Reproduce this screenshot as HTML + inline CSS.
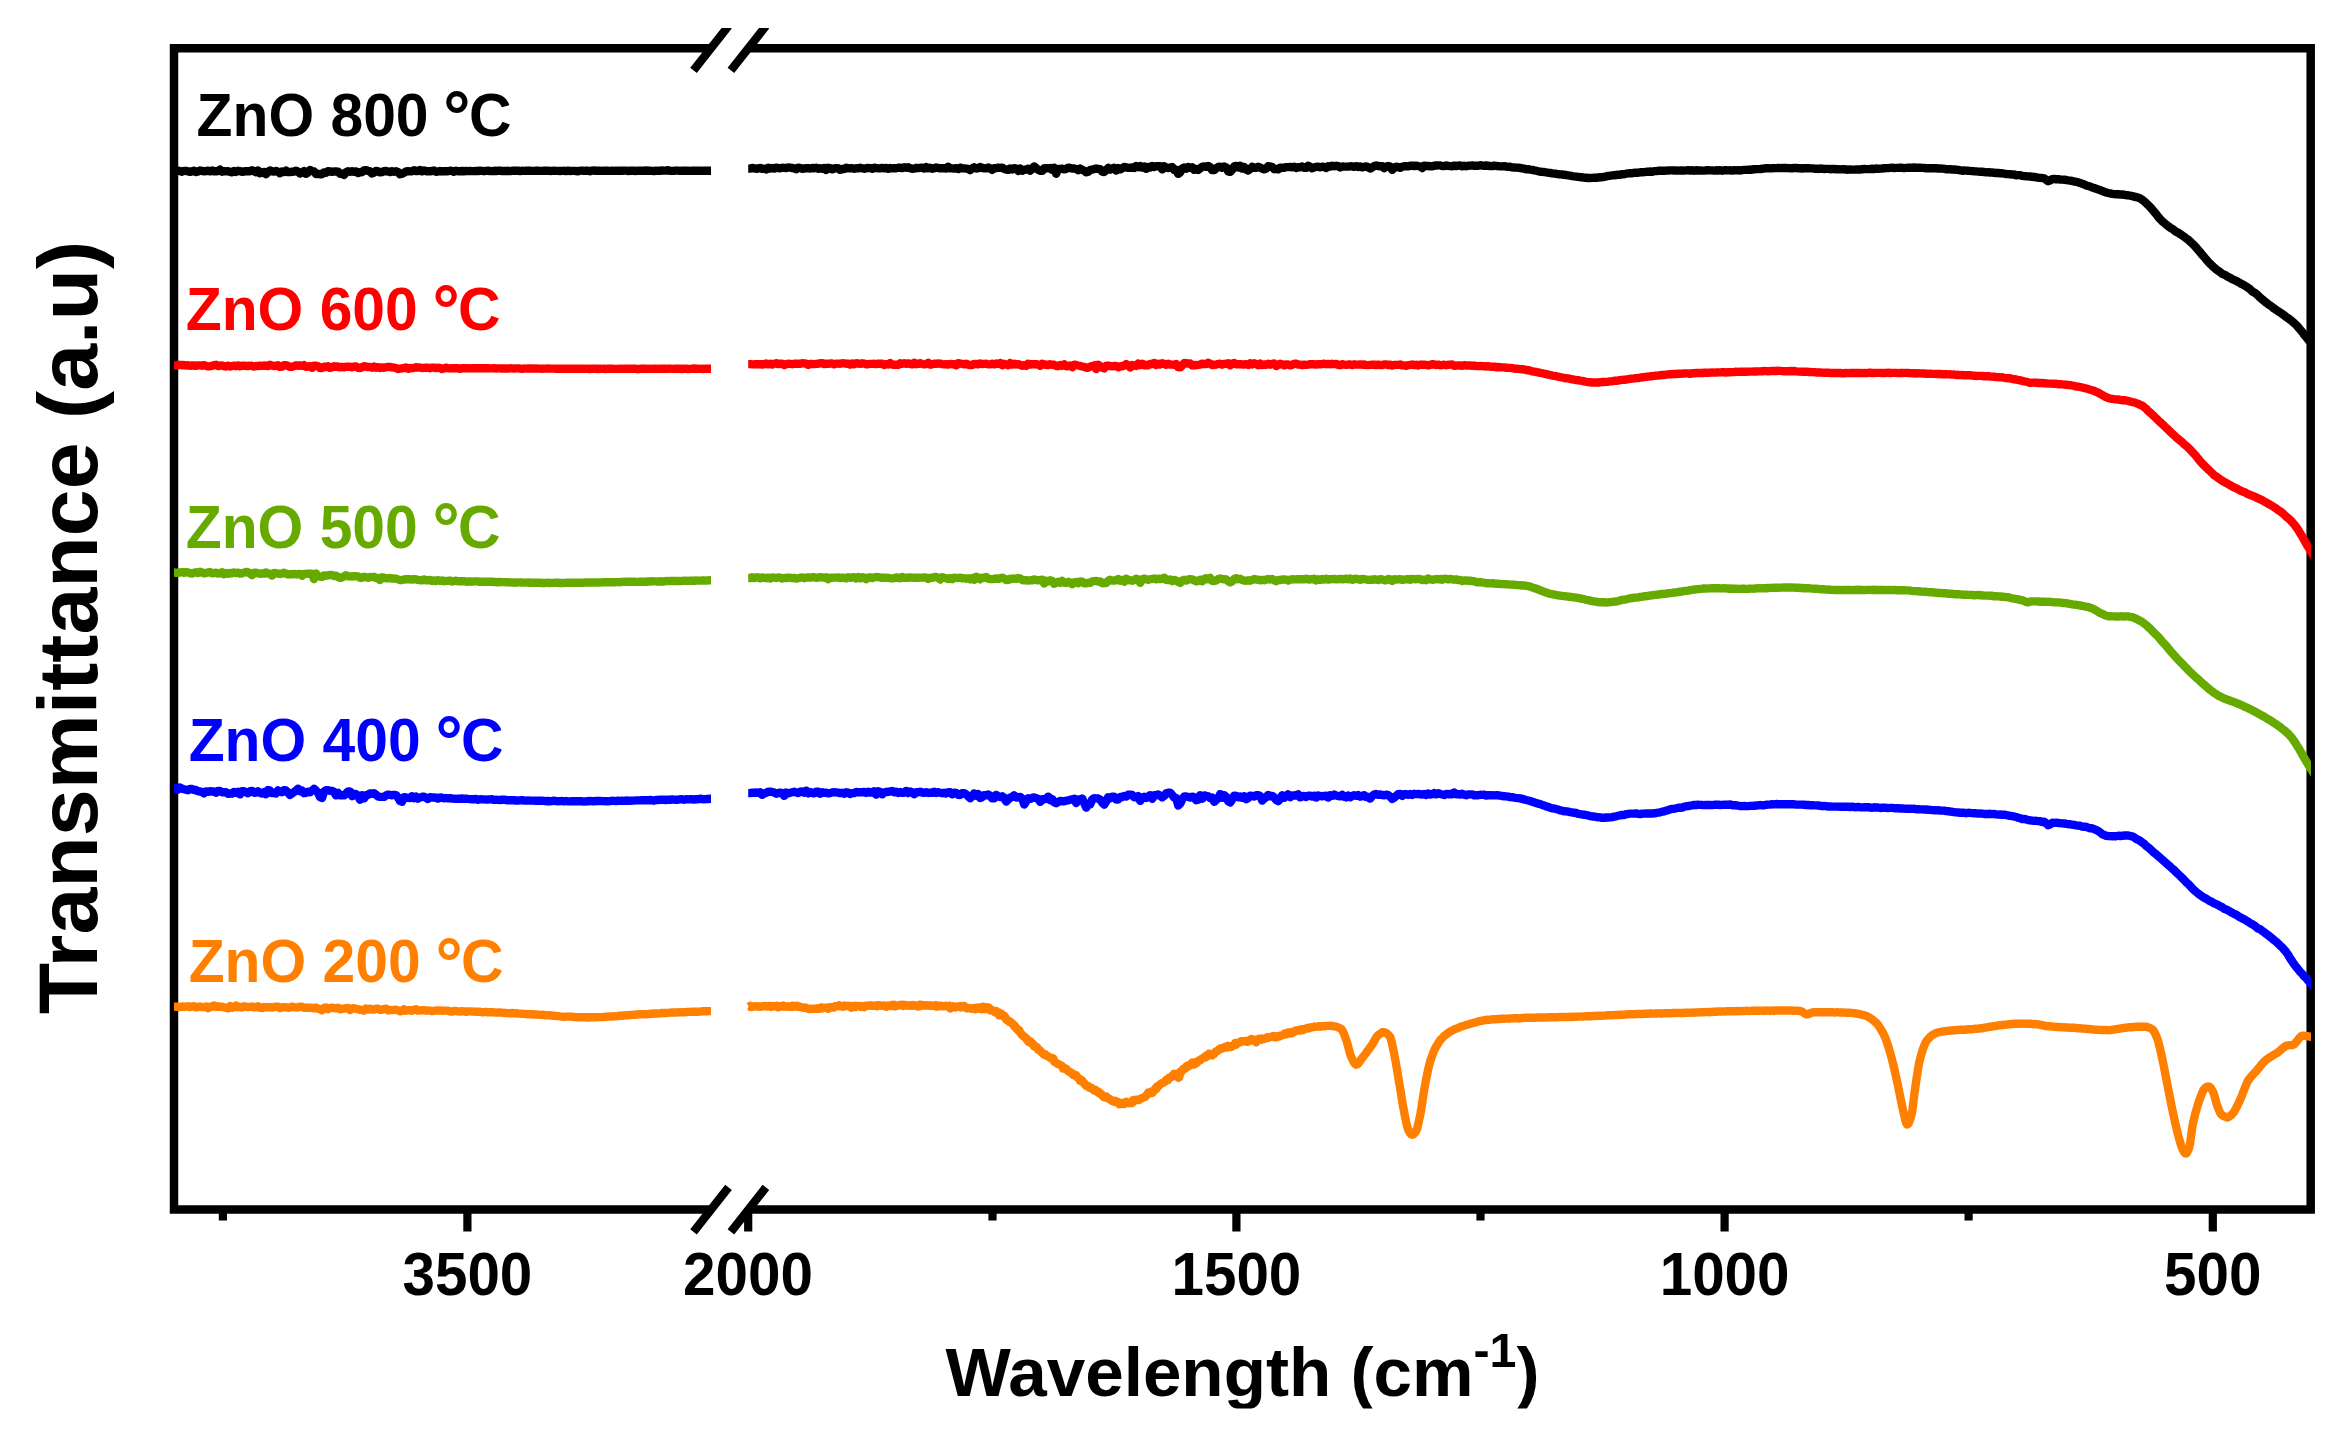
<!DOCTYPE html>
<html lang="en">
<head>
<meta charset="utf-8">
<title>FTIR transmittance of ZnO</title>
<style>html,body{margin:0;padding:0;background:#fff;}body{width:2338px;height:1436px;overflow:hidden;}svg{display:block;}</style>
</head>
<body>
<svg width="2338" height="1436" viewBox="0 0 2338 1436">
<rect x="0" y="0" width="2338" height="1436" fill="#ffffff"/>
<g font-family='"Liberation Sans", sans-serif' font-weight="700">
<text transform="translate(196.6,136.3) scale(1,1.040)" font-size="58.8" fill="#000000" xml:space="preserve">ZnO 800 <tspan x="246.7" dy="4.00" font-size="68.0">°</tspan><tspan x="272.3" dy="-4.00">C</tspan></text>
<text transform="translate(185.8,329.6) scale(1,1.040)" font-size="58.8" fill="#ff0000" xml:space="preserve">ZnO 600 <tspan x="246.7" dy="4.00" font-size="68.0">°</tspan><tspan x="272.3" dy="-4.00">C</tspan></text>
<text transform="translate(185.8,548.0) scale(1,1.040)" font-size="58.8" fill="#66aa00" xml:space="preserve">ZnO 500 <tspan x="246.7" dy="4.00" font-size="68.0">°</tspan><tspan x="272.3" dy="-4.00">C</tspan></text>
<text transform="translate(188.7,761.3) scale(1,1.040)" font-size="58.8" fill="#0000ff" xml:space="preserve">ZnO 400 <tspan x="246.7" dy="4.00" font-size="68.0">°</tspan><tspan x="272.3" dy="-4.00">C</tspan></text>
<text transform="translate(188.7,982.4) scale(1,1.040)" font-size="58.8" fill="#ff8000" xml:space="preserve">ZnO 200 <tspan x="246.7" dy="4.00" font-size="68.0">°</tspan><tspan x="272.3" dy="-4.00">C</tspan></text>
<text transform="translate(467.4,1295.3) scale(1,1.040)" font-size="58.4" text-anchor="middle" fill="#000">3500</text>
<text transform="translate(748.0,1295.3) scale(1,1.040)" font-size="58.4" text-anchor="middle" fill="#000">2000</text>
<text transform="translate(1236.4,1295.3) scale(1,1.040)" font-size="58.4" text-anchor="middle" fill="#000">1500</text>
<text transform="translate(1724.6,1295.3) scale(1,1.040)" font-size="58.4" text-anchor="middle" fill="#000">1000</text>
<text transform="translate(2212.8,1295.3) scale(1,1.040)" font-size="58.4" text-anchor="middle" fill="#000">500</text>
<clipPath id="xc"><rect x="0" y="1300" width="2338" height="108.5"/></clipPath>
<g clip-path="url(#xc)"><text x="945.5" y="1395.7" font-size="69.2" fill="#000" xml:space="preserve">Wavelength (cm<tspan font-size="48.4" dy="-29">-1</tspan><tspan dy="29">)</tspan></text></g>
<text transform="translate(96.6,1014.3) rotate(-90) scale(1.0105,1)" font-size="83.5" fill="#000">Transmittance (a.u)</text>
</g>
<path fill="none" stroke="#000" stroke-width="8.5" stroke-linecap="butt" stroke-linejoin="miter" d="M711.0 48.2 L174.0 48.2 L174.0 1209.6 L711.0 1209.6"/>
<path fill="none" stroke="#000" stroke-width="8.5" stroke-linecap="butt" stroke-linejoin="miter" d="M748.4 48.2 L2310.7 48.2 L2310.7 1209.6 L748.4 1209.6"/>
<path d="M467.4 1209.6 V1231.6M748.2 1209.6 V1231.6M1236.4 1209.6 V1231.6M1724.6 1209.6 V1231.6M2212.8 1209.6 V1231.6M222.9 1209.6 V1220.4M992.5 1209.6 V1220.4M1480.5 1209.6 V1220.4M1968.6 1209.6 V1220.4" fill="none" stroke="#000" stroke-width="8.2"/>
<clipPath id="sc"><rect x="0" y="28.1" width="2338" height="1436"/></clipPath>
<path clip-path="url(#sc)" d="M693.5 70.4 L728.5 26.0M730.9 70.4 L765.9 26.0M693.5 1231.8 L728.5 1187.4M730.9 1231.8 L765.9 1187.4" fill="none" stroke="#000" stroke-width="8.4" stroke-linecap="butt"/>
<clipPath id="pc"><rect x="174" y="40" width="2137" height="1180"/></clipPath>
<g clip-path="url(#pc)">
<path d="M168.0 171.3L170.0 171.3L172.0 171.3L174.0 170.9L176.0 170.9L178.0 170.7L180.0 171.1L182.0 171.7L184.0 170.9L186.0 170.9L188.0 171.3L190.0 171.9L192.0 171.3L194.0 170.7L196.0 172.1L198.0 171.5L200.0 170.5L202.0 170.9L204.0 171.3L206.0 171.1L208.0 170.7L210.0 171.4L212.0 170.5L214.0 171.3L216.0 171.2L218.0 171.0L220.0 169.6L222.0 171.7L224.0 171.2L226.0 171.4L228.0 171.2L230.0 171.9L232.0 172.3L234.0 171.0L236.0 171.9L238.0 170.8L240.0 171.2L242.0 171.8L244.0 171.5L246.0 171.2L248.0 171.3L250.0 171.2L252.0 170.3L254.0 171.2L256.0 172.2L258.0 170.4L260.0 173.3L262.0 172.7L264.0 172.0L266.0 174.2L268.0 171.7L270.0 170.4L272.0 171.3L274.0 171.6L276.0 170.9L278.0 171.8L280.0 173.2L282.0 171.4L284.0 172.0L286.0 170.6L288.0 172.1L290.0 172.0L292.0 171.8L294.0 171.5L296.0 170.7L298.0 171.8L300.0 173.4L302.0 172.4L304.0 171.2L306.0 173.9L308.0 172.4L310.0 170.0L312.0 171.1L314.0 171.4L316.0 174.1L318.0 173.8L320.0 174.2L322.0 174.3L324.0 172.4L326.0 172.9L328.0 171.2L330.0 171.4L332.0 171.9L334.0 171.5L336.0 171.5L338.0 171.6L340.0 173.7L342.0 173.7L344.0 174.9L346.0 172.3L348.0 171.3L350.0 171.8L352.0 171.2L354.0 171.9L356.0 171.4L358.0 173.0L360.0 172.2L362.0 172.2L364.0 170.4L366.0 170.1L368.0 171.1L370.0 171.1L372.0 173.5L374.0 172.6L376.0 170.9L378.0 171.4L380.0 172.3L382.0 172.0L384.0 171.2L386.0 171.0L388.0 171.5L390.0 172.1L392.0 171.2L394.0 171.8L396.0 171.3L398.0 171.9L400.0 174.3L402.0 173.8L404.0 172.8L406.0 171.5L408.0 171.3L410.0 171.4L412.0 171.2L414.0 170.3L416.0 171.0L418.0 171.1L420.0 170.1L422.0 171.3L424.0 170.4L426.0 171.2L428.0 171.1L430.0 171.3L432.0 171.0L434.0 170.4L436.0 171.7L438.0 171.6L440.0 171.0L442.0 171.5L444.0 171.1L446.0 171.2L448.0 171.3L450.0 170.8L452.0 170.9L454.0 171.8L456.0 170.8L458.0 171.2L460.0 171.2L462.0 171.0L464.0 171.2L466.0 171.0L468.0 171.1L470.0 171.0L472.0 171.1L474.0 171.1L476.0 171.0L478.0 171.0L480.0 170.8L482.0 170.9L484.0 171.2L486.0 170.9L488.0 170.8L490.0 171.0L492.0 171.1L494.0 170.8L496.0 171.0L498.0 170.8L500.0 170.7L502.0 171.0L504.0 170.9L506.0 171.0L508.0 170.8L510.0 171.1L512.0 170.8L514.0 170.8L516.0 170.7L518.0 170.7L520.0 171.1L522.0 170.8L524.0 170.9L526.0 170.8L528.0 170.8L530.0 170.8L532.0 170.9L534.0 170.9L536.0 170.8L538.0 170.8L540.0 170.9L542.0 170.9L544.0 170.8L546.0 170.7L548.0 170.6L550.0 171.0L552.0 170.9L554.0 170.8L556.0 170.9L558.0 170.9L560.0 171.0L562.0 170.9L564.0 170.8L566.0 171.1L568.0 170.7L570.0 171.0L572.0 170.9L574.0 170.9L576.0 171.0L578.0 171.3L580.0 170.6L582.0 170.6L584.0 170.9L586.0 170.7L588.0 170.8L590.0 171.2L592.0 170.6L594.0 170.5L596.0 170.8L598.0 170.8L600.0 170.8L602.0 170.9L604.0 170.7L606.0 170.6L608.0 170.8L610.0 170.9L612.0 170.6L614.0 170.9L616.0 170.7L618.0 170.9L620.0 170.6L622.0 170.7L624.0 170.6L626.0 170.6L628.0 171.0L630.0 170.8L632.0 170.8L634.0 170.8L636.0 171.0L638.0 170.6L640.0 170.8L642.0 170.7L644.0 170.7L646.0 170.5L648.0 170.7L650.0 170.8L652.0 170.9L654.0 171.1L656.0 170.7L658.0 170.9L660.0 170.7L662.0 170.5L664.0 170.6L666.0 170.5L668.0 170.3L670.0 170.7L672.0 170.9L674.0 170.8L676.0 170.6L678.0 170.6L680.0 170.9L682.0 170.8L684.0 170.8L686.0 170.8L688.0 170.8L690.0 170.9L692.0 170.8L694.0 170.8L696.0 170.6L698.0 170.8L700.0 170.7L702.0 170.9L704.0 170.6L706.0 170.7L708.0 170.7L710.0 170.8L711.0 170.8" fill="none" stroke="#000000" stroke-width="8.4" stroke-linejoin="round" stroke-linecap="butt"/>
<path d="M748.2 168.6L750.2 168.6L752.2 168.0L754.2 168.3L756.2 168.7L758.2 168.5L760.2 167.9L762.2 168.8L764.2 168.6L766.2 169.4L768.2 167.8L770.2 168.5L772.2 167.9L774.2 168.6L776.2 167.7L778.2 168.1L780.2 168.3L782.2 167.8L784.2 167.9L786.2 168.0L788.2 167.4L790.2 167.7L792.2 168.0L794.2 168.3L796.2 169.2L798.2 167.6L800.2 168.1L802.2 168.7L804.2 168.5L806.2 168.3L808.2 168.2L810.2 168.5L812.2 168.0L814.2 168.2L816.2 167.8L818.2 168.8L820.2 168.2L822.2 168.7L824.2 167.9L826.2 170.0L828.2 167.8L830.2 168.1L832.2 169.3L834.2 168.5L836.2 168.3L838.2 168.3L840.2 169.8L842.2 169.0L844.2 169.0L846.2 167.7L848.2 168.4L850.2 168.3L852.2 168.3L854.2 168.8L856.2 168.2L858.2 168.4L860.2 167.8L862.2 168.3L864.2 168.8L866.2 168.2L868.2 168.0L870.2 168.1L872.2 168.7L874.2 167.6L876.2 168.1L878.2 168.3L880.2 168.4L882.2 167.9L884.2 168.3L886.2 168.0L888.2 168.8L890.2 168.0L892.2 168.4L894.2 168.3L896.2 168.3L898.2 167.8L900.2 167.7L902.2 168.1L904.2 167.3L906.2 167.8L908.2 167.2L910.2 168.2L912.2 168.8L914.2 168.6L916.2 167.8L918.2 168.1L920.2 167.8L922.2 167.8L924.2 168.5L926.2 167.1L928.2 168.3L930.2 167.8L932.2 168.8L934.2 168.2L936.2 167.5L938.2 168.0L940.2 168.3L942.2 168.1L944.2 168.2L946.2 168.5L948.2 166.8L950.2 168.4L952.2 168.4L954.2 168.6L956.2 168.1L958.2 169.1L960.2 167.6L962.2 168.2L964.2 168.4L966.2 168.6L968.2 168.9L970.2 170.1L972.2 168.4L974.2 167.3L976.2 168.5L978.2 168.2L980.2 166.9L982.2 167.9L984.2 168.4L986.2 168.4L988.2 167.4L990.2 168.5L992.2 169.9L994.2 168.2L996.2 168.1L998.2 167.7L1000.2 167.9L1002.2 167.6L1004.2 168.9L1006.2 169.6L1008.2 169.9L1010.2 168.4L1012.2 169.4L1014.2 168.1L1016.2 168.5L1018.2 171.0L1020.2 168.5L1022.2 170.7L1024.2 169.6L1026.2 169.6L1028.2 168.7L1030.2 170.6L1032.2 168.9L1034.2 166.4L1036.2 168.1L1038.2 169.8L1040.2 170.8L1042.2 170.9L1044.2 168.2L1046.2 168.3L1048.2 168.4L1050.2 168.0L1052.2 169.9L1054.2 167.8L1056.2 173.7L1058.2 168.9L1060.2 169.0L1062.2 168.6L1064.2 169.4L1066.2 168.8L1068.2 167.6L1070.2 167.9L1072.2 168.5L1074.2 168.5L1076.2 169.0L1078.2 170.3L1080.2 168.6L1082.2 169.8L1084.2 170.6L1086.2 172.3L1088.2 171.7L1090.2 170.1L1092.2 169.5L1094.2 169.1L1096.2 168.5L1098.2 169.0L1100.2 169.2L1102.2 171.7L1104.2 172.0L1106.2 170.2L1108.2 167.9L1110.2 169.6L1112.2 168.5L1114.2 167.8L1116.2 170.6L1118.2 168.1L1120.2 169.3L1122.2 168.4L1124.2 167.0L1126.2 167.3L1128.2 167.9L1130.2 167.8L1132.2 167.5L1134.2 168.0L1136.2 166.0L1138.2 167.3L1140.2 166.0L1142.2 167.6L1144.2 166.6L1146.2 168.8L1148.2 166.9L1150.2 167.5L1152.2 165.9L1154.2 167.0L1156.2 166.1L1158.2 166.2L1160.2 166.1L1162.2 169.4L1164.2 166.2L1166.2 167.5L1168.2 168.1L1170.2 167.5L1172.2 167.0L1174.2 170.0L1176.2 169.8L1178.2 173.9L1180.2 172.4L1182.2 168.5L1184.2 167.5L1186.2 168.7L1188.2 167.0L1190.2 167.8L1192.2 167.3L1194.2 169.8L1196.2 168.9L1198.2 169.9L1200.2 168.4L1202.2 166.8L1204.2 166.4L1206.2 166.8L1208.2 166.0L1210.2 167.1L1212.2 170.1L1214.2 170.1L1216.2 168.2L1218.2 166.9L1220.2 166.7L1222.2 167.8L1224.2 166.4L1226.2 167.4L1228.2 171.4L1230.2 171.9L1232.2 169.7L1234.2 166.4L1236.2 165.9L1238.2 167.5L1240.2 165.8L1242.2 168.6L1244.2 167.0L1246.2 169.7L1248.2 170.5L1250.2 169.0L1252.2 166.8L1254.2 167.9L1256.2 167.9L1258.2 166.8L1260.2 167.7L1262.2 168.6L1264.2 169.4L1266.2 168.6L1268.2 166.3L1270.2 166.4L1272.2 167.0L1274.2 169.2L1276.2 168.9L1278.2 169.4L1280.2 167.8L1282.2 167.7L1284.2 167.7L1286.2 167.1L1288.2 167.1L1290.2 167.0L1292.2 167.2L1294.2 166.7L1296.2 168.0L1298.2 167.2L1300.2 167.3L1302.2 166.5L1304.2 167.7L1306.2 167.9L1308.2 165.8L1310.2 166.8L1312.2 168.3L1314.2 167.3L1316.2 166.9L1318.2 166.6L1320.2 167.4L1322.2 166.7L1324.2 166.9L1326.2 167.9L1328.2 166.3L1330.2 166.6L1332.2 165.7L1334.2 166.2L1336.2 165.8L1338.2 166.2L1340.2 167.4L1342.2 166.5L1344.2 166.6L1346.2 166.6L1348.2 166.6L1350.2 166.3L1352.2 166.4L1354.2 166.9L1356.2 166.1L1358.2 167.1L1360.2 166.5L1362.2 167.3L1364.2 166.9L1366.2 166.4L1368.2 167.2L1370.2 168.6L1372.2 167.5L1374.2 166.0L1376.2 165.4L1378.2 166.0L1380.2 166.2L1382.2 166.3L1384.2 168.1L1386.2 166.5L1388.2 166.0L1390.2 166.5L1392.2 169.8L1394.2 167.9L1396.2 166.7L1398.2 167.1L1400.2 167.9L1402.2 166.8L1404.2 166.2L1406.2 166.3L1408.2 166.4L1410.2 165.8L1412.2 165.6L1414.2 166.1L1416.2 165.7L1418.2 166.1L1420.2 166.4L1422.2 168.0L1424.2 165.7L1426.2 166.0L1428.2 165.9L1430.2 166.3L1432.2 166.4L1434.2 165.7L1436.2 165.5L1438.2 165.4L1440.2 165.4L1442.2 166.1L1444.2 166.1L1446.2 165.5L1448.2 165.8L1450.2 166.1L1452.2 166.2L1454.2 165.6L1456.2 166.1L1458.2 165.7L1460.2 165.4L1462.2 166.4L1464.2 165.7L1466.2 166.3L1468.2 165.8L1470.2 165.6L1472.2 165.5L1474.2 165.7L1476.2 165.7L1478.2 165.7L1480.2 165.2L1482.2 165.6L1484.2 165.7L1486.2 165.5L1488.2 165.8L1490.2 166.0L1492.2 166.1L1494.2 165.6L1496.2 166.0L1498.2 166.1L1500.2 166.4L1502.2 166.4L1504.2 166.3L1506.2 166.5L1508.2 166.9L1510.2 166.8L1512.2 167.4L1514.2 167.5L1516.2 167.6L1518.2 167.7L1520.2 168.0L1522.2 168.3L1524.2 168.7L1526.2 169.4L1528.2 169.2L1530.2 169.6L1532.2 169.9L1534.2 170.4L1536.2 170.7L1538.2 171.2L1540.2 171.7L1542.2 171.9L1544.2 172.0L1546.2 172.4L1548.2 172.7L1550.2 172.9L1552.2 173.4L1554.2 173.6L1556.2 173.7L1558.2 174.2L1560.2 174.4L1562.2 174.5L1564.2 174.8L1566.2 175.0L1568.2 175.4L1570.2 175.7L1572.2 176.1L1574.2 176.4L1576.2 176.6L1578.2 176.9L1580.2 177.2L1582.2 177.3L1584.2 177.8L1586.2 177.8L1588.2 178.0L1590.2 178.0L1592.2 177.9L1594.2 177.7L1596.2 177.8L1598.2 177.5L1600.2 177.3L1602.2 177.2L1604.2 176.8L1606.2 176.4L1608.2 175.9L1610.2 175.7L1612.2 175.4L1614.2 175.2L1616.2 175.0L1618.2 174.8L1620.2 174.7L1622.2 174.1L1624.2 174.2L1626.2 173.7L1628.2 173.4L1630.2 173.3L1632.2 173.2L1634.2 172.8L1636.2 172.8L1638.2 172.7L1640.2 172.3L1642.2 172.3L1644.2 172.1L1646.2 171.8L1648.2 171.8L1650.2 171.5L1652.2 171.8L1654.2 171.1L1656.2 171.1L1658.2 170.8L1660.2 170.7L1662.2 170.7L1664.2 170.8L1666.2 170.6L1668.2 170.5L1670.2 170.4L1672.2 170.4L1674.2 170.5L1676.2 170.5L1678.2 170.6L1680.2 170.5L1682.2 170.5L1684.2 170.6L1686.2 170.4L1688.2 170.3L1690.2 170.5L1692.2 170.3L1694.2 170.7L1696.2 170.3L1698.2 170.5L1700.2 170.4L1702.2 170.6L1704.2 170.6L1706.2 170.3L1708.2 170.3L1710.2 170.4L1712.2 170.4L1714.2 170.6L1716.2 170.3L1718.2 170.5L1720.2 170.2L1722.2 170.7L1724.2 170.3L1726.2 170.3L1728.2 170.4L1730.2 170.3L1732.2 170.6L1734.2 170.1L1736.2 170.4L1738.2 170.2L1740.2 170.5L1742.2 170.1L1744.2 169.9L1746.2 169.9L1748.2 169.8L1750.2 169.8L1752.2 169.5L1754.2 169.3L1756.2 169.1L1758.2 169.1L1760.2 169.1L1762.2 168.7L1764.2 168.5L1766.2 168.2L1768.2 168.3L1770.2 168.4L1772.2 168.2L1774.2 168.1L1776.2 168.1L1778.2 167.9L1780.2 168.1L1782.2 167.9L1784.2 168.0L1786.2 168.0L1788.2 168.1L1790.2 168.2L1792.2 168.2L1794.2 168.0L1796.2 168.0L1798.2 168.2L1800.2 168.3L1802.2 168.5L1804.2 168.2L1806.2 168.3L1808.2 168.2L1810.2 168.4L1812.2 168.4L1814.2 168.7L1816.2 168.6L1818.2 169.0L1820.2 168.5L1822.2 168.7L1824.2 169.0L1826.2 168.9L1828.2 168.9L1830.2 169.2L1832.2 169.0L1834.2 169.0L1836.2 169.2L1838.2 169.3L1840.2 169.4L1842.2 169.3L1844.2 169.3L1846.2 169.5L1848.2 169.7L1850.2 169.4L1852.2 169.6L1854.2 169.6L1856.2 169.5L1858.2 169.4L1860.2 169.5L1862.2 169.2L1864.2 169.0L1866.2 169.1L1868.2 169.1L1870.2 169.1L1872.2 168.6L1874.2 169.1L1876.2 168.5L1878.2 168.8L1880.2 168.6L1882.2 168.5L1884.2 168.3L1886.2 168.1L1888.2 168.1L1890.2 167.9L1892.2 167.7L1894.2 168.1L1896.2 167.9L1898.2 167.9L1900.2 167.6L1902.2 167.8L1904.2 168.1L1906.2 167.9L1908.2 167.7L1910.2 167.6L1912.2 167.7L1914.2 167.5L1916.2 167.7L1918.2 167.8L1920.2 167.8L1922.2 167.9L1924.2 167.9L1926.2 168.4L1928.2 168.2L1930.2 168.1L1932.2 168.3L1934.2 168.3L1936.2 168.3L1938.2 168.5L1940.2 168.4L1942.2 168.6L1944.2 168.7L1946.2 169.3L1948.2 169.3L1950.2 169.3L1952.2 169.5L1954.2 169.5L1956.2 169.7L1958.2 169.9L1960.2 170.3L1962.2 170.8L1964.2 170.5L1966.2 170.6L1968.2 170.8L1970.2 170.9L1972.2 171.1L1974.2 171.3L1976.2 171.4L1978.2 171.6L1980.2 171.7L1982.2 171.8L1984.2 172.0L1986.2 172.4L1988.2 172.2L1990.2 172.5L1992.2 172.5L1994.2 172.8L1996.2 173.0L1998.2 172.9L2000.2 173.3L2002.2 173.3L2004.2 173.7L2006.2 174.0L2008.2 174.1L2010.2 174.2L2012.2 174.6L2014.2 174.5L2016.2 175.3L2018.2 175.1L2020.2 175.1L2022.2 175.9L2024.2 176.1L2026.2 176.3L2028.2 176.4L2030.2 176.5L2032.2 176.8L2034.2 177.0L2036.2 177.2L2038.2 177.7L2040.2 177.9L2042.2 178.0L2044.2 178.4L2046.2 179.8L2048.2 181.2L2050.2 180.4L2052.2 179.2L2054.2 178.9L2056.2 179.3L2058.2 179.2L2060.2 179.5L2062.2 179.6L2064.2 179.7L2066.2 180.0L2068.2 180.4L2070.2 180.7L2072.2 181.0L2074.2 181.5L2076.2 181.8L2078.2 182.3L2080.2 183.1L2082.2 183.7L2084.2 184.5L2086.2 185.4L2088.2 186.0L2090.2 186.6L2092.2 187.4L2094.2 188.0L2096.2 188.8L2098.2 189.4L2100.2 190.2L2102.2 190.9L2104.2 191.8L2106.2 192.4L2108.2 193.0L2110.2 193.4L2112.2 193.9L2114.2 194.1L2116.2 194.2L2118.2 194.3L2120.2 194.5L2122.2 194.5L2124.2 194.7L2126.2 195.2L2128.2 195.2L2130.2 195.7L2132.2 196.1L2134.2 196.6L2136.2 197.1L2138.2 197.6L2140.2 198.4L2142.2 199.7L2144.2 201.4L2146.2 203.2L2148.2 205.1L2150.2 207.2L2152.2 209.4L2154.2 211.9L2156.2 214.1L2158.2 216.9L2160.2 219.1L2162.2 221.2L2164.2 222.9L2166.2 224.6L2168.2 226.2L2170.2 227.7L2172.2 228.7L2174.2 230.3L2176.2 231.8L2178.2 232.6L2180.2 234.2L2182.2 235.4L2184.2 236.7L2186.2 238.5L2188.2 239.7L2190.2 241.6L2192.2 243.5L2194.2 245.4L2196.2 247.6L2198.2 249.9L2200.2 252.3L2202.2 254.8L2204.2 257.0L2206.2 259.5L2208.2 261.8L2210.2 263.9L2212.2 265.8L2214.2 267.6L2216.2 269.4L2218.2 270.7L2220.2 272.1L2222.2 273.9L2224.2 274.5L2226.2 275.7L2228.2 277.0L2230.2 277.9L2232.2 279.1L2234.2 280.0L2236.2 280.9L2238.2 282.0L2240.2 283.2L2242.2 284.3L2244.2 285.3L2246.2 286.5L2248.2 287.9L2250.2 289.3L2252.2 291.4L2254.2 292.4L2256.2 293.9L2258.2 295.7L2260.2 297.6L2262.2 299.4L2264.2 301.0L2266.2 302.7L2268.2 304.2L2270.2 305.5L2272.2 307.0L2274.2 308.6L2276.2 309.9L2278.2 311.2L2280.2 312.6L2282.2 313.9L2284.2 315.4L2286.2 317.0L2288.2 318.3L2290.2 319.7L2292.2 321.4L2294.2 323.2L2296.2 325.0L2298.2 327.2L2300.2 329.6L2302.2 331.9L2304.2 334.7L2306.2 337.1L2308.2 339.6L2310.2 341.8L2312.2 344.4L2314.2 346.8L2316.0 349.0" fill="none" stroke="#000000" stroke-width="8.4" stroke-linejoin="round" stroke-linecap="butt"/>
<path d="M168.0 365.4L170.0 365.4L172.0 365.7L174.0 365.4L176.0 365.4L178.0 365.2L180.0 364.8L182.0 365.2L184.0 365.0L186.0 365.5L188.0 365.3L190.0 365.7L192.0 365.5L194.0 365.5L196.0 365.8L198.0 365.4L200.0 365.4L202.0 365.7L204.0 365.1L206.0 365.8L208.0 366.4L210.0 366.2L212.0 365.9L214.0 365.1L216.0 364.8L218.0 366.1L220.0 365.6L222.0 365.5L224.0 366.2L226.0 366.5L228.0 365.6L230.0 366.6L232.0 366.0L234.0 365.6L236.0 366.1L238.0 365.4L240.0 366.3L242.0 365.8L244.0 365.6L246.0 366.0L248.0 366.0L250.0 365.8L252.0 365.8L254.0 366.6L256.0 365.9L258.0 366.1L260.0 365.7L262.0 365.9L264.0 365.5L266.0 365.7L268.0 366.1L270.0 364.8L272.0 365.7L274.0 366.0L276.0 365.8L278.0 365.3L280.0 366.9L282.0 366.6L284.0 365.1L286.0 365.2L288.0 366.0L290.0 366.8L292.0 366.8L294.0 366.1L296.0 365.3L298.0 365.8L300.0 365.4L302.0 365.9L304.0 365.1L306.0 366.8L308.0 366.6L310.0 366.1L312.0 367.9L314.0 365.7L316.0 365.7L318.0 366.3L320.0 368.0L322.0 368.0L324.0 366.7L326.0 367.0L328.0 366.3L330.0 367.9L332.0 367.3L334.0 366.3L336.0 366.9L338.0 366.4L340.0 367.4L342.0 366.9L344.0 367.3L346.0 366.6L348.0 366.7L350.0 366.6L352.0 367.4L354.0 366.5L356.0 366.5L358.0 367.9L360.0 368.0L362.0 367.3L364.0 366.2L366.0 366.6L368.0 367.1L370.0 366.9L372.0 367.7L374.0 366.5L376.0 367.7L378.0 367.1L380.0 368.1L382.0 367.4L384.0 367.8L386.0 367.2L388.0 366.9L390.0 367.0L392.0 367.3L394.0 367.6L396.0 368.0L398.0 369.0L400.0 368.7L402.0 368.3L404.0 368.0L406.0 367.5L408.0 368.8L410.0 367.9L412.0 368.2L414.0 367.9L416.0 367.2L418.0 367.6L420.0 367.5L422.0 368.0L424.0 367.9L426.0 367.7L428.0 367.7L430.0 368.2L432.0 367.6L434.0 367.6L436.0 368.1L438.0 367.8L440.0 367.9L442.0 369.0L444.0 368.5L446.0 367.7L448.0 368.1L450.0 368.4L452.0 368.1L454.0 368.2L456.0 368.1L458.0 368.3L460.0 368.9L462.0 368.2L464.0 368.2L466.0 368.2L468.0 368.3L470.0 368.4L472.0 368.3L474.0 368.3L476.0 368.3L478.0 368.3L480.0 368.2L482.0 368.2L484.0 368.3L486.0 368.3L488.0 368.3L490.0 368.4L492.0 368.4L494.0 368.2L496.0 368.5L498.0 368.4L500.0 368.4L502.0 368.5L504.0 368.5L506.0 368.4L508.0 368.6L510.0 368.3L512.0 368.4L514.0 368.6L516.0 368.4L518.0 368.4L520.0 368.5L522.0 368.9L524.0 368.5L526.0 368.6L528.0 368.5L530.0 368.5L532.0 368.5L534.0 368.6L536.0 368.5L538.0 368.6L540.0 368.6L542.0 368.7L544.0 368.6L546.0 368.6L548.0 368.5L550.0 368.6L552.0 368.6L554.0 368.6L556.0 368.7L558.0 368.6L560.0 368.8L562.0 368.8L564.0 368.6L566.0 368.8L568.0 368.6L570.0 368.8L572.0 368.7L574.0 368.7L576.0 368.7L578.0 368.8L580.0 368.8L582.0 368.8L584.0 368.6L586.0 368.9L588.0 368.7L590.0 369.1L592.0 368.7L594.0 368.8L596.0 368.7L598.0 369.0L600.0 368.7L602.0 368.9L604.0 368.8L606.0 369.0L608.0 368.6L610.0 368.8L612.0 368.7L614.0 368.9L616.0 368.9L618.0 368.9L620.0 368.7L622.0 368.9L624.0 368.7L626.0 368.8L628.0 368.7L630.0 368.6L632.0 368.7L634.0 368.8L636.0 368.8L638.0 369.2L640.0 368.8L642.0 368.7L644.0 368.7L646.0 368.8L648.0 368.9L650.0 368.8L652.0 368.9L654.0 368.7L656.0 368.7L658.0 368.9L660.0 368.8L662.0 368.7L664.0 368.8L666.0 368.7L668.0 368.9L670.0 368.5L672.0 368.9L674.0 368.8L676.0 368.6L678.0 368.8L680.0 368.8L682.0 369.0L684.0 368.7L686.0 368.7L688.0 369.0L690.0 368.9L692.0 368.8L694.0 368.5L696.0 368.8L698.0 368.7L700.0 368.9L702.0 368.8L704.0 369.0L706.0 368.6L708.0 368.8L710.0 368.7L711.0 368.7" fill="none" stroke="#ff0000" stroke-width="8.4" stroke-linejoin="round" stroke-linecap="butt"/>
<path d="M748.2 364.1L750.2 364.1L752.2 364.4L754.2 364.3L756.2 364.1L758.2 364.2L760.2 364.1L762.2 364.6L764.2 364.2L766.2 363.5L768.2 364.4L770.2 363.8L772.2 364.5L774.2 363.7L776.2 363.2L778.2 364.1L780.2 363.8L782.2 363.6L784.2 365.0L786.2 364.3L788.2 363.7L790.2 363.9L792.2 364.2L794.2 363.7L796.2 363.7L798.2 363.8L800.2 363.8L802.2 363.2L804.2 363.4L806.2 363.7L808.2 364.8L810.2 363.9L812.2 364.0L814.2 364.1L816.2 363.9L818.2 363.8L820.2 363.2L822.2 363.2L824.2 364.1L826.2 363.6L828.2 363.9L830.2 363.5L832.2 363.5L834.2 364.4L836.2 363.6L838.2 363.6L840.2 363.7L842.2 363.3L844.2 363.4L846.2 363.7L848.2 363.7L850.2 364.6L852.2 363.4L854.2 364.3L856.2 363.3L858.2 363.5L860.2 363.9L862.2 363.3L864.2 363.6L866.2 364.2L868.2 364.2L870.2 363.9L872.2 363.9L874.2 363.8L876.2 364.1L878.2 363.7L880.2 363.6L882.2 363.8L884.2 365.0L886.2 364.1L888.2 364.5L890.2 363.0L892.2 364.5L894.2 364.8L896.2 364.6L898.2 364.8L900.2 363.3L902.2 363.7L904.2 363.2L906.2 363.8L908.2 363.4L910.2 363.9L912.2 364.3L914.2 362.8L916.2 364.2L918.2 363.9L920.2 363.1L922.2 364.0L924.2 364.4L926.2 364.1L928.2 362.9L930.2 364.7L932.2 364.3L934.2 363.8L936.2 363.8L938.2 363.5L940.2 363.6L942.2 364.1L944.2 364.4L946.2 364.1L948.2 364.6L950.2 363.9L952.2 364.2L954.2 364.3L956.2 365.3L958.2 363.1L960.2 363.5L962.2 363.9L964.2 364.3L966.2 363.6L968.2 364.7L970.2 365.1L972.2 364.8L974.2 363.9L976.2 364.0L978.2 364.2L980.2 363.5L982.2 364.1L984.2 363.9L986.2 363.7L988.2 364.4L990.2 364.4L992.2 363.7L994.2 364.4L996.2 363.5L998.2 363.9L1000.2 363.1L1002.2 365.2L1004.2 363.8L1006.2 364.6L1008.2 365.2L1010.2 363.1L1012.2 364.6L1014.2 363.8L1016.2 364.5L1018.2 364.1L1020.2 365.1L1022.2 365.7L1024.2 365.1L1026.2 365.9L1028.2 363.7L1030.2 364.6L1032.2 364.1L1034.2 364.2L1036.2 364.2L1038.2 364.6L1040.2 365.7L1042.2 363.7L1044.2 364.4L1046.2 364.8L1048.2 365.0L1050.2 364.2L1052.2 364.8L1054.2 364.8L1056.2 366.0L1058.2 366.0L1060.2 364.9L1062.2 365.8L1064.2 364.4L1066.2 366.3L1068.2 366.0L1070.2 365.4L1072.2 367.3L1074.2 364.7L1076.2 365.0L1078.2 365.5L1080.2 365.9L1082.2 366.5L1084.2 366.9L1086.2 367.7L1088.2 367.7L1090.2 366.5L1092.2 366.1L1094.2 365.4L1096.2 369.0L1098.2 364.7L1100.2 366.1L1102.2 367.6L1104.2 368.4L1106.2 365.6L1108.2 365.6L1110.2 366.1L1112.2 366.3L1114.2 366.0L1116.2 365.9L1118.2 367.2L1120.2 366.1L1122.2 366.2L1124.2 365.5L1126.2 364.1L1128.2 365.2L1130.2 367.5L1132.2 365.0L1134.2 365.6L1136.2 366.0L1138.2 363.5L1140.2 365.1L1142.2 363.8L1144.2 365.2L1146.2 365.0L1148.2 365.2L1150.2 363.9L1152.2 364.1L1154.2 363.0L1156.2 364.9L1158.2 363.7L1160.2 364.5L1162.2 363.2L1164.2 363.7L1166.2 364.8L1168.2 363.8L1170.2 364.5L1172.2 364.6L1174.2 364.7L1176.2 364.1L1178.2 367.1L1180.2 367.4L1182.2 365.5L1184.2 363.0L1186.2 363.1L1188.2 363.6L1190.2 363.5L1192.2 365.4L1194.2 365.0L1196.2 365.2L1198.2 364.9L1200.2 364.6L1202.2 363.7L1204.2 364.1L1206.2 364.1L1208.2 362.7L1210.2 363.7L1212.2 365.1L1214.2 364.8L1216.2 364.6L1218.2 363.9L1220.2 363.8L1222.2 364.7L1224.2 363.9L1226.2 363.7L1228.2 363.2L1230.2 365.2L1232.2 363.5L1234.2 363.0L1236.2 364.3L1238.2 364.3L1240.2 364.1L1242.2 364.5L1244.2 364.5L1246.2 364.1L1248.2 364.9L1250.2 363.3L1252.2 364.4L1254.2 363.3L1256.2 363.9L1258.2 365.2L1260.2 363.5L1262.2 365.0L1264.2 364.4L1266.2 364.8L1268.2 363.8L1270.2 364.8L1272.2 363.8L1274.2 363.5L1276.2 366.0L1278.2 364.9L1280.2 363.7L1282.2 364.2L1284.2 365.3L1286.2 364.4L1288.2 364.4L1290.2 365.4L1292.2 364.8L1294.2 363.8L1296.2 363.8L1298.2 364.5L1300.2 364.6L1302.2 365.1L1304.2 364.6L1306.2 364.9L1308.2 364.6L1310.2 364.2L1312.2 364.3L1314.2 364.3L1316.2 364.6L1318.2 364.1L1320.2 364.3L1322.2 364.1L1324.2 363.7L1326.2 364.2L1328.2 363.9L1330.2 364.3L1332.2 363.8L1334.2 364.1L1336.2 363.9L1338.2 364.8L1340.2 365.2L1342.2 364.2L1344.2 364.6L1346.2 364.9L1348.2 364.5L1350.2 364.5L1352.2 365.1L1354.2 364.3L1356.2 364.6L1358.2 364.6L1360.2 364.4L1362.2 364.7L1364.2 364.5L1366.2 365.1L1368.2 365.1L1370.2 364.9L1372.2 364.7L1374.2 364.7L1376.2 365.1L1378.2 364.7L1380.2 365.0L1382.2 365.1L1384.2 364.5L1386.2 364.4L1388.2 365.1L1390.2 364.7L1392.2 365.6L1394.2 365.0L1396.2 364.9L1398.2 364.9L1400.2 364.5L1402.2 365.3L1404.2 365.4L1406.2 365.8L1408.2 365.1L1410.2 364.9L1412.2 364.5L1414.2 365.1L1416.2 364.8L1418.2 365.5L1420.2 364.6L1422.2 364.8L1424.2 364.7L1426.2 365.0L1428.2 365.4L1430.2 364.9L1432.2 364.2L1434.2 364.5L1436.2 365.0L1438.2 364.6L1440.2 365.2L1442.2 365.1L1444.2 364.7L1446.2 365.2L1448.2 364.7L1450.2 364.6L1452.2 364.5L1454.2 365.8L1456.2 365.6L1458.2 365.5L1460.2 365.5L1462.2 365.8L1464.2 365.2L1466.2 365.5L1468.2 365.4L1470.2 365.5L1472.2 365.7L1474.2 365.7L1476.2 366.0L1478.2 366.1L1480.2 366.0L1482.2 366.1L1484.2 366.2L1486.2 366.5L1488.2 366.2L1490.2 366.6L1492.2 366.7L1494.2 366.6L1496.2 367.2L1498.2 367.0L1500.2 367.2L1502.2 367.4L1504.2 367.4L1506.2 367.8L1508.2 367.9L1510.2 367.9L1512.2 368.2L1514.2 368.5L1516.2 368.7L1518.2 368.9L1520.2 369.1L1522.2 369.3L1524.2 369.5L1526.2 370.0L1528.2 370.2L1530.2 370.6L1532.2 371.4L1534.2 371.7L1536.2 372.0L1538.2 372.4L1540.2 372.9L1542.2 373.2L1544.2 373.7L1546.2 374.1L1548.2 374.6L1550.2 375.0L1552.2 375.6L1554.2 375.9L1556.2 376.2L1558.2 376.7L1560.2 377.1L1562.2 377.5L1564.2 378.0L1566.2 378.3L1568.2 378.4L1570.2 378.9L1572.2 379.3L1574.2 379.7L1576.2 380.0L1578.2 380.2L1580.2 380.6L1582.2 380.9L1584.2 381.3L1586.2 381.8L1588.2 382.1L1590.2 382.3L1592.2 382.5L1594.2 382.5L1596.2 382.4L1598.2 382.5L1600.2 382.3L1602.2 382.0L1604.2 382.0L1606.2 381.9L1608.2 381.7L1610.2 381.4L1612.2 381.2L1614.2 380.8L1616.2 380.8L1618.2 380.5L1620.2 380.2L1622.2 379.9L1624.2 379.7L1626.2 379.5L1628.2 379.2L1630.2 378.8L1632.2 378.6L1634.2 378.4L1636.2 378.1L1638.2 378.0L1640.2 377.7L1642.2 377.3L1644.2 377.1L1646.2 376.8L1648.2 376.6L1650.2 376.3L1652.2 376.2L1654.2 375.9L1656.2 375.6L1658.2 375.6L1660.2 375.2L1662.2 375.0L1664.2 375.0L1666.2 374.6L1668.2 374.4L1670.2 374.3L1672.2 374.2L1674.2 373.9L1676.2 374.0L1678.2 373.8L1680.2 373.7L1682.2 373.6L1684.2 373.5L1686.2 373.4L1688.2 373.4L1690.2 373.9L1692.2 373.3L1694.2 373.2L1696.2 373.0L1698.2 373.0L1700.2 372.9L1702.2 373.0L1704.2 372.8L1706.2 372.8L1708.2 372.7L1710.2 372.6L1712.2 372.5L1714.2 372.6L1716.2 372.5L1718.2 372.4L1720.2 372.4L1722.2 372.3L1724.2 372.3L1726.2 372.5L1728.2 372.2L1730.2 372.2L1732.2 372.1L1734.2 372.0L1736.2 371.8L1738.2 371.9L1740.2 371.7L1742.2 371.7L1744.2 371.8L1746.2 371.7L1748.2 371.6L1750.2 371.6L1752.2 371.6L1754.2 371.4L1756.2 371.5L1758.2 371.4L1760.2 371.4L1762.2 371.3L1764.2 371.0L1766.2 371.1L1768.2 371.3L1770.2 371.1L1772.2 371.0L1774.2 371.0L1776.2 371.0L1778.2 370.8L1780.2 370.9L1782.2 371.1L1784.2 371.3L1786.2 371.2L1788.2 371.3L1790.2 371.0L1792.2 371.2L1794.2 371.0L1796.2 371.4L1798.2 371.6L1800.2 371.6L1802.2 371.7L1804.2 371.7L1806.2 371.6L1808.2 372.0L1810.2 372.0L1812.2 372.1L1814.2 372.1L1816.2 372.5L1818.2 372.5L1820.2 372.4L1822.2 372.6L1824.2 372.7L1826.2 372.8L1828.2 372.8L1830.2 373.0L1832.2 372.9L1834.2 373.0L1836.2 373.0L1838.2 372.9L1840.2 373.0L1842.2 373.3L1844.2 373.2L1846.2 373.0L1848.2 373.1L1850.2 372.9L1852.2 373.0L1854.2 373.0L1856.2 373.0L1858.2 373.0L1860.2 373.0L1862.2 373.1L1864.2 372.9L1866.2 373.1L1868.2 372.8L1870.2 372.8L1872.2 373.0L1874.2 373.0L1876.2 372.9L1878.2 372.9L1880.2 372.9L1882.2 373.0L1884.2 373.0L1886.2 372.9L1888.2 372.8L1890.2 373.0L1892.2 372.9L1894.2 372.9L1896.2 372.9L1898.2 373.1L1900.2 373.0L1902.2 373.0L1904.2 372.9L1906.2 372.9L1908.2 373.0L1910.2 373.1L1912.2 373.2L1914.2 373.2L1916.2 373.5L1918.2 373.3L1920.2 373.4L1922.2 373.5L1924.2 373.5L1926.2 373.7L1928.2 373.9L1930.2 373.7L1932.2 373.9L1934.2 373.9L1936.2 374.0L1938.2 373.9L1940.2 374.0L1942.2 374.3L1944.2 374.2L1946.2 374.3L1948.2 374.4L1950.2 374.3L1952.2 374.6L1954.2 374.5L1956.2 375.0L1958.2 374.8L1960.2 375.1L1962.2 375.0L1964.2 375.2L1966.2 375.2L1968.2 375.3L1970.2 375.2L1972.2 375.6L1974.2 375.7L1976.2 376.0L1978.2 375.9L1980.2 375.9L1982.2 376.0L1984.2 376.3L1986.2 376.3L1988.2 376.3L1990.2 376.5L1992.2 376.6L1994.2 376.8L1996.2 377.0L1998.2 377.1L2000.2 377.4L2002.2 377.3L2004.2 377.8L2006.2 378.1L2008.2 378.3L2010.2 378.3L2012.2 378.9L2014.2 379.3L2016.2 379.5L2018.2 380.1L2020.2 380.3L2022.2 380.9L2024.2 381.3L2026.2 381.6L2028.2 382.3L2030.2 382.9L2032.2 382.6L2034.2 382.6L2036.2 382.7L2038.2 383.0L2040.2 382.9L2042.2 383.0L2044.2 383.2L2046.2 383.3L2048.2 383.6L2050.2 383.6L2052.2 383.6L2054.2 383.9L2056.2 383.8L2058.2 384.2L2060.2 384.2L2062.2 384.4L2064.2 384.6L2066.2 384.7L2068.2 385.0L2070.2 385.1L2072.2 385.5L2074.2 385.9L2076.2 386.5L2078.2 386.6L2080.2 387.0L2082.2 387.5L2084.2 388.1L2086.2 388.4L2088.2 389.1L2090.2 389.7L2092.2 390.2L2094.2 391.0L2096.2 391.8L2098.2 392.7L2100.2 393.8L2102.2 395.0L2104.2 396.1L2106.2 397.2L2108.2 398.0L2110.2 398.6L2112.2 398.9L2114.2 399.2L2116.2 399.4L2118.2 399.5L2120.2 399.8L2122.2 400.2L2124.2 400.3L2126.2 400.5L2128.2 400.9L2130.2 401.5L2132.2 402.1L2134.2 402.4L2136.2 403.1L2138.2 403.9L2140.2 404.8L2142.2 405.7L2144.2 407.2L2146.2 408.8L2148.2 411.1L2150.2 412.6L2152.2 414.5L2154.2 416.4L2156.2 418.4L2158.2 420.3L2160.2 422.1L2162.2 424.0L2164.2 425.9L2166.2 427.9L2168.2 429.7L2170.2 431.6L2172.2 433.6L2174.2 435.4L2176.2 437.4L2178.2 439.0L2180.2 440.6L2182.2 442.3L2184.2 444.2L2186.2 445.9L2188.2 447.6L2190.2 449.7L2192.2 451.8L2194.2 454.0L2196.2 456.2L2198.2 458.8L2200.2 461.2L2202.2 463.5L2204.2 465.5L2206.2 467.5L2208.2 469.4L2210.2 471.3L2212.2 473.2L2214.2 475.3L2216.2 476.4L2218.2 478.0L2220.2 479.4L2222.2 480.8L2224.2 481.9L2226.2 483.1L2228.2 484.1L2230.2 485.2L2232.2 486.4L2234.2 487.4L2236.2 488.3L2238.2 489.3L2240.2 490.5L2242.2 491.3L2244.2 492.1L2246.2 493.1L2248.2 494.2L2250.2 495.0L2252.2 495.7L2254.2 496.5L2256.2 497.4L2258.2 498.4L2260.2 499.3L2262.2 500.3L2264.2 501.6L2266.2 502.4L2268.2 503.7L2270.2 504.8L2272.2 506.0L2274.2 507.3L2276.2 508.6L2278.2 510.1L2280.2 511.3L2282.2 512.9L2284.2 514.6L2286.2 516.6L2288.2 518.2L2290.2 520.0L2292.2 522.1L2294.2 524.4L2296.2 527.0L2298.2 529.9L2300.2 533.3L2302.2 536.4L2304.2 540.2L2306.2 543.6L2308.2 547.0L2310.2 550.2L2312.2 553.6L2314.2 556.8L2316.0 559.7" fill="none" stroke="#ff0000" stroke-width="8.4" stroke-linejoin="round" stroke-linecap="butt"/>
<path d="M168.0 572.8L170.0 572.8L172.0 573.0L174.0 572.5L176.0 572.8L178.0 572.9L180.0 572.4L182.0 572.1L184.0 572.7L186.0 572.1L188.0 572.4L190.0 573.2L192.0 573.5L194.0 572.7L196.0 572.2L198.0 573.0L200.0 571.8L202.0 572.4L204.0 573.3L206.0 573.0L208.0 572.4L210.0 572.0L212.0 573.3L214.0 573.1L216.0 572.7L218.0 573.5L220.0 573.4L222.0 572.2L224.0 574.1L226.0 572.9L228.0 573.7L230.0 573.0L232.0 573.2L234.0 572.5L236.0 573.1L238.0 572.7L240.0 573.5L242.0 573.3L244.0 572.6L246.0 571.9L248.0 572.4L250.0 573.3L252.0 575.2L254.0 572.7L256.0 572.7L258.0 573.3L260.0 573.7L262.0 573.5L264.0 573.6L266.0 572.4L268.0 573.6L270.0 573.7L272.0 575.6L274.0 573.0L276.0 573.2L278.0 573.6L280.0 574.0L282.0 573.5L284.0 572.8L286.0 573.6L288.0 574.5L290.0 574.1L292.0 574.3L294.0 573.9L296.0 574.3L298.0 574.4L300.0 573.9L302.0 575.7L304.0 574.0L306.0 573.9L308.0 573.7L310.0 573.8L312.0 573.8L314.0 579.1L316.0 573.5L318.0 576.2L320.0 576.5L322.0 576.9L324.0 575.4L326.0 575.8L328.0 575.3L330.0 575.0L332.0 575.0L334.0 576.0L336.0 575.8L338.0 576.9L340.0 577.8L342.0 577.5L344.0 576.3L346.0 575.3L348.0 576.3L350.0 576.4L352.0 576.5L354.0 576.2L356.0 576.1L358.0 576.4L360.0 577.8L362.0 577.7L364.0 576.8L366.0 577.2L368.0 577.7L370.0 577.0L372.0 577.1L374.0 576.8L376.0 578.0L378.0 577.9L380.0 580.0L382.0 577.3L384.0 577.7L386.0 578.3L388.0 578.3L390.0 577.9L392.0 578.5L394.0 578.5L396.0 578.6L398.0 579.4L400.0 580.1L402.0 580.1L404.0 579.5L406.0 579.3L408.0 579.3L410.0 579.3L412.0 579.6L414.0 579.1L416.0 579.4L418.0 579.8L420.0 580.3L422.0 580.2L424.0 579.5L426.0 580.3L428.0 580.2L430.0 580.0L432.0 580.9L434.0 580.4L436.0 581.0L438.0 580.1L440.0 580.9L442.0 580.5L444.0 581.2L446.0 580.9L448.0 580.9L450.0 580.5L452.0 581.5L454.0 581.1L456.0 580.7L458.0 581.2L460.0 581.3L462.0 581.2L464.0 581.2L466.0 581.5L468.0 581.7L470.0 581.3L472.0 581.7L474.0 581.4L476.0 581.4L478.0 581.5L480.0 581.8L482.0 581.7L484.0 581.8L486.0 581.8L488.0 581.8L490.0 581.8L492.0 581.8L494.0 582.0L496.0 582.0L498.0 582.2L500.0 582.0L502.0 582.1L504.0 582.1L506.0 582.3L508.0 582.1L510.0 582.4L512.0 582.5L514.0 582.4L516.0 582.7L518.0 582.4L520.0 582.4L522.0 582.5L524.0 582.6L526.0 582.6L528.0 582.5L530.0 582.7L532.0 582.8L534.0 582.7L536.0 582.7L538.0 582.6L540.0 582.7L542.0 583.0L544.0 583.0L546.0 582.9L548.0 582.8L550.0 583.0L552.0 582.9L554.0 582.9L556.0 582.8L558.0 582.8L560.0 583.0L562.0 583.0L564.0 582.9L566.0 582.8L568.0 582.6L570.0 582.8L572.0 582.8L574.0 582.7L576.0 582.7L578.0 582.7L580.0 582.7L582.0 582.7L584.0 582.7L586.0 582.4L588.0 582.5L590.0 582.5L592.0 582.4L594.0 582.5L596.0 582.5L598.0 582.5L600.0 582.5L602.0 582.4L604.0 582.1L606.0 582.2L608.0 582.3L610.0 582.3L612.0 582.1L614.0 582.2L616.0 582.1L618.0 582.1L620.0 582.2L622.0 581.8L624.0 581.9L626.0 581.8L628.0 581.8L630.0 581.6L632.0 581.7L634.0 581.6L636.0 581.9L638.0 581.9L640.0 581.8L642.0 581.7L644.0 581.8L646.0 581.7L648.0 581.5L650.0 581.5L652.0 581.3L654.0 581.4L656.0 581.4L658.0 581.7L660.0 581.3L662.0 581.5L664.0 581.5L666.0 581.0L668.0 581.1L670.0 581.0L672.0 581.0L674.0 580.9L676.0 581.0L678.0 581.0L680.0 581.1L682.0 580.9L684.0 580.8L686.0 580.8L688.0 580.9L690.0 580.7L692.0 580.6L694.0 580.7L696.0 580.5L698.0 580.6L700.0 580.6L702.0 580.5L704.0 580.4L706.0 580.6L708.0 580.4L710.0 580.3L711.0 580.3" fill="none" stroke="#66aa00" stroke-width="8.4" stroke-linejoin="round" stroke-linecap="butt"/>
<path d="M748.2 578.0L750.2 578.0L752.2 577.3L754.2 578.1L756.2 577.3L758.2 577.4L760.2 578.3L762.2 577.5L764.2 577.8L766.2 578.2L768.2 577.6L770.2 578.6L772.2 577.5L774.2 577.6L776.2 578.0L778.2 577.4L780.2 577.7L782.2 578.5L784.2 577.9L786.2 578.1L788.2 577.6L790.2 577.7L792.2 578.2L794.2 577.8L796.2 578.6L798.2 578.2L800.2 577.7L802.2 577.4L804.2 578.2L806.2 577.6L808.2 577.4L810.2 577.7L812.2 577.3L814.2 577.2L816.2 577.8L818.2 577.6L820.2 577.2L822.2 577.4L824.2 577.7L826.2 577.2L828.2 579.1L830.2 577.6L832.2 577.7L834.2 577.6L836.2 577.6L838.2 577.4L840.2 578.1L842.2 577.7L844.2 577.6L846.2 578.5L848.2 577.3L850.2 577.7L852.2 577.5L854.2 577.1L856.2 578.5L858.2 577.0L860.2 578.4L862.2 577.2L864.2 577.6L866.2 579.2L868.2 577.6L870.2 577.3L872.2 578.1L874.2 577.4L876.2 577.0L878.2 577.1L880.2 577.5L882.2 577.8L884.2 577.7L886.2 577.6L888.2 577.9L890.2 578.2L892.2 578.4L894.2 578.1L896.2 577.4L898.2 577.9L900.2 578.3L902.2 577.0L904.2 577.8L906.2 577.8L908.2 577.8L910.2 577.4L912.2 577.6L914.2 577.7L916.2 577.7L918.2 577.8L920.2 577.6L922.2 577.6L924.2 577.5L926.2 577.7L928.2 578.9L930.2 577.7L932.2 577.8L934.2 577.2L936.2 576.9L938.2 578.0L940.2 579.5L942.2 577.2L944.2 577.8L946.2 578.3L948.2 579.0L950.2 578.0L952.2 579.2L954.2 577.8L956.2 577.9L958.2 578.0L960.2 577.6L962.2 578.4L964.2 578.2L966.2 578.7L968.2 578.3L970.2 579.4L972.2 578.0L974.2 579.9L976.2 576.8L978.2 577.4L980.2 579.3L982.2 577.7L984.2 577.9L986.2 577.1L988.2 578.7L990.2 579.0L992.2 579.1L994.2 578.9L996.2 578.4L998.2 578.9L1000.2 578.3L1002.2 577.6L1004.2 578.5L1006.2 580.0L1008.2 579.8L1010.2 578.6L1012.2 579.0L1014.2 578.5L1016.2 578.9L1018.2 577.9L1020.2 578.5L1022.2 580.0L1024.2 580.3L1026.2 580.2L1028.2 580.6L1030.2 580.3L1032.2 580.3L1034.2 579.4L1036.2 580.0L1038.2 580.3L1040.2 580.1L1042.2 579.7L1044.2 583.5L1046.2 580.7L1048.2 581.5L1050.2 580.3L1052.2 580.9L1054.2 583.7L1056.2 582.8L1058.2 581.8L1060.2 582.8L1062.2 580.9L1064.2 582.6L1066.2 583.0L1068.2 581.8L1070.2 582.7L1072.2 584.2L1074.2 582.4L1076.2 582.0L1078.2 583.3L1080.2 581.4L1082.2 581.6L1084.2 583.3L1086.2 583.2L1088.2 582.7L1090.2 582.8L1092.2 581.4L1094.2 581.1L1096.2 580.9L1098.2 581.6L1100.2 581.4L1102.2 583.3L1104.2 583.1L1106.2 583.1L1108.2 580.8L1110.2 579.8L1112.2 580.6L1114.2 580.5L1116.2 580.4L1118.2 579.0L1120.2 580.7L1122.2 579.9L1124.2 581.8L1126.2 578.6L1128.2 580.0L1130.2 580.2L1132.2 580.7L1134.2 580.1L1136.2 578.7L1138.2 579.5L1140.2 582.8L1142.2 579.6L1144.2 578.6L1146.2 579.2L1148.2 579.8L1150.2 579.1L1152.2 579.0L1154.2 578.5L1156.2 579.3L1158.2 578.6L1160.2 579.1L1162.2 578.9L1164.2 577.7L1166.2 579.8L1168.2 580.0L1170.2 579.4L1172.2 581.1L1174.2 579.9L1176.2 580.7L1178.2 581.8L1180.2 582.9L1182.2 580.7L1184.2 579.8L1186.2 580.6L1188.2 579.4L1190.2 579.2L1192.2 579.4L1194.2 580.3L1196.2 581.4L1198.2 580.9L1200.2 579.7L1202.2 581.4L1204.2 578.9L1206.2 578.1L1208.2 579.3L1210.2 578.0L1212.2 580.8L1214.2 581.0L1216.2 580.5L1218.2 579.0L1220.2 578.5L1222.2 579.0L1224.2 579.3L1226.2 579.4L1228.2 581.2L1230.2 582.3L1232.2 581.2L1234.2 578.9L1236.2 578.1L1238.2 579.2L1240.2 578.8L1242.2 580.0L1244.2 580.6L1246.2 580.7L1248.2 580.2L1250.2 580.7L1252.2 579.9L1254.2 579.0L1256.2 579.6L1258.2 579.7L1260.2 580.3L1262.2 579.9L1264.2 580.2L1266.2 579.6L1268.2 578.9L1270.2 579.5L1272.2 579.0L1274.2 580.2L1276.2 581.2L1278.2 579.9L1280.2 580.1L1282.2 579.5L1284.2 579.5L1286.2 579.7L1288.2 580.5L1290.2 579.7L1292.2 579.3L1294.2 579.4L1296.2 579.3L1298.2 579.1L1300.2 579.3L1302.2 579.3L1304.2 579.3L1306.2 578.6L1308.2 579.6L1310.2 579.3L1312.2 579.3L1314.2 578.8L1316.2 580.4L1318.2 579.3L1320.2 579.9L1322.2 578.9L1324.2 579.5L1326.2 578.8L1328.2 579.5L1330.2 579.3L1332.2 579.1L1334.2 578.9L1336.2 579.4L1338.2 579.2L1340.2 578.9L1342.2 579.4L1344.2 579.0L1346.2 578.8L1348.2 579.3L1350.2 578.5L1352.2 579.8L1354.2 578.9L1356.2 578.8L1358.2 579.2L1360.2 579.8L1362.2 578.9L1364.2 579.1L1366.2 579.5L1368.2 579.9L1370.2 579.8L1372.2 579.8L1374.2 579.2L1376.2 579.6L1378.2 580.0L1380.2 579.2L1382.2 579.4L1384.2 580.2L1386.2 580.2L1388.2 579.0L1390.2 579.3L1392.2 580.8L1394.2 579.3L1396.2 579.5L1398.2 579.4L1400.2 579.1L1402.2 579.9L1404.2 579.5L1406.2 579.4L1408.2 579.1L1410.2 579.7L1412.2 579.0L1414.2 579.1L1416.2 579.2L1418.2 578.9L1420.2 579.2L1422.2 580.0L1424.2 579.7L1426.2 580.2L1428.2 578.4L1430.2 579.4L1432.2 579.7L1434.2 579.5L1436.2 579.0L1438.2 579.4L1440.2 579.0L1442.2 579.7L1444.2 578.8L1446.2 578.9L1448.2 579.3L1450.2 578.9L1452.2 579.4L1454.2 579.7L1456.2 579.3L1458.2 580.1L1460.2 579.9L1462.2 581.0L1464.2 580.5L1466.2 580.5L1468.2 580.7L1470.2 580.7L1472.2 581.1L1474.2 581.3L1476.2 582.1L1478.2 582.3L1480.2 581.9L1482.2 582.5L1484.2 582.6L1486.2 583.3L1488.2 583.1L1490.2 583.4L1492.2 583.3L1494.2 583.5L1496.2 583.8L1498.2 583.7L1500.2 584.0L1502.2 584.1L1504.2 584.1L1506.2 584.2L1508.2 584.4L1510.2 584.6L1512.2 584.6L1514.2 584.7L1516.2 585.0L1518.2 585.1L1520.2 585.3L1522.2 585.5L1524.2 585.5L1526.2 585.8L1528.2 586.2L1530.2 586.6L1532.2 587.4L1534.2 588.1L1536.2 588.6L1538.2 589.6L1540.2 590.2L1542.2 591.1L1544.2 591.8L1546.2 592.6L1548.2 593.2L1550.2 593.8L1552.2 594.2L1554.2 594.6L1556.2 595.0L1558.2 595.3L1560.2 595.6L1562.2 595.9L1564.2 596.1L1566.2 596.4L1568.2 596.7L1570.2 596.8L1572.2 597.1L1574.2 597.4L1576.2 597.7L1578.2 598.0L1580.2 598.4L1582.2 598.9L1584.2 599.1L1586.2 599.9L1588.2 600.1L1590.2 600.6L1592.2 601.1L1594.2 601.4L1596.2 601.7L1598.2 602.1L1600.2 602.3L1602.2 602.3L1604.2 602.3L1606.2 602.5L1608.2 602.4L1610.2 602.1L1612.2 601.9L1614.2 601.6L1616.2 601.5L1618.2 601.0L1620.2 600.4L1622.2 599.9L1624.2 599.6L1626.2 599.3L1628.2 598.8L1630.2 598.3L1632.2 598.1L1634.2 597.6L1636.2 597.6L1638.2 597.4L1640.2 596.9L1642.2 596.7L1644.2 596.3L1646.2 596.2L1648.2 595.8L1650.2 595.5L1652.2 595.4L1654.2 594.9L1656.2 594.9L1658.2 594.5L1660.2 594.2L1662.2 594.0L1664.2 593.9L1666.2 593.8L1668.2 593.2L1670.2 593.1L1672.2 592.8L1674.2 592.6L1676.2 592.3L1678.2 592.0L1680.2 591.8L1682.2 591.4L1684.2 591.0L1686.2 590.9L1688.2 590.6L1690.2 590.1L1692.2 589.8L1694.2 589.5L1696.2 589.4L1698.2 589.1L1700.2 588.9L1702.2 588.7L1704.2 588.4L1706.2 588.6L1708.2 588.4L1710.2 588.4L1712.2 588.2L1714.2 588.2L1716.2 588.2L1718.2 588.2L1720.2 588.4L1722.2 588.4L1724.2 588.3L1726.2 588.4L1728.2 588.7L1730.2 588.5L1732.2 588.7L1734.2 588.7L1736.2 588.7L1738.2 588.9L1740.2 588.9L1742.2 588.8L1744.2 588.8L1746.2 588.9L1748.2 588.8L1750.2 588.6L1752.2 588.6L1754.2 588.7L1756.2 588.4L1758.2 588.3L1760.2 588.4L1762.2 588.3L1764.2 588.2L1766.2 588.2L1768.2 588.0L1770.2 587.9L1772.2 587.9L1774.2 587.7L1776.2 587.7L1778.2 587.7L1780.2 587.6L1782.2 587.6L1784.2 587.4L1786.2 587.5L1788.2 587.4L1790.2 587.5L1792.2 587.4L1794.2 587.6L1796.2 587.7L1798.2 587.7L1800.2 588.0L1802.2 588.0L1804.2 588.2L1806.2 588.1L1808.2 588.2L1810.2 588.4L1812.2 588.6L1814.2 588.7L1816.2 588.8L1818.2 588.9L1820.2 589.2L1822.2 589.2L1824.2 589.3L1826.2 589.6L1828.2 589.5L1830.2 589.8L1832.2 589.9L1834.2 590.0L1836.2 590.0L1838.2 590.0L1840.2 589.9L1842.2 590.1L1844.2 590.0L1846.2 590.0L1848.2 589.9L1850.2 590.0L1852.2 590.1L1854.2 589.9L1856.2 590.0L1858.2 589.8L1860.2 590.0L1862.2 590.0L1864.2 590.1L1866.2 590.0L1868.2 589.9L1870.2 589.9L1872.2 590.0L1874.2 589.8L1876.2 590.0L1878.2 590.0L1880.2 590.0L1882.2 589.9L1884.2 590.0L1886.2 590.1L1888.2 589.9L1890.2 590.0L1892.2 590.1L1894.2 589.9L1896.2 590.2L1898.2 590.2L1900.2 590.1L1902.2 590.2L1904.2 590.3L1906.2 590.4L1908.2 590.4L1910.2 590.6L1912.2 590.9L1914.2 591.1L1916.2 591.1L1918.2 591.2L1920.2 591.5L1922.2 591.6L1924.2 591.7L1926.2 591.8L1928.2 592.1L1930.2 592.2L1932.2 592.3L1934.2 592.5L1936.2 592.7L1938.2 593.0L1940.2 592.9L1942.2 593.2L1944.2 593.3L1946.2 593.3L1948.2 593.7L1950.2 593.8L1952.2 593.8L1954.2 594.2L1956.2 594.2L1958.2 594.2L1960.2 594.4L1962.2 594.7L1964.2 594.6L1966.2 594.7L1968.2 594.9L1970.2 594.9L1972.2 595.0L1974.2 595.2L1976.2 595.1L1978.2 595.0L1980.2 595.2L1982.2 595.3L1984.2 595.6L1986.2 595.6L1988.2 595.6L1990.2 595.7L1992.2 595.8L1994.2 596.4L1996.2 596.2L1998.2 596.4L2000.2 596.5L2002.2 596.7L2004.2 596.8L2006.2 597.1L2008.2 597.3L2010.2 597.8L2012.2 598.4L2014.2 598.6L2016.2 599.0L2018.2 599.4L2020.2 599.9L2022.2 600.3L2024.2 600.9L2026.2 601.9L2028.2 602.4L2030.2 601.5L2032.2 601.4L2034.2 601.4L2036.2 601.4L2038.2 601.5L2040.2 601.8L2042.2 601.8L2044.2 601.6L2046.2 601.8L2048.2 601.9L2050.2 601.8L2052.2 602.1L2054.2 602.4L2056.2 602.4L2058.2 602.4L2060.2 602.6L2062.2 602.8L2064.2 603.1L2066.2 603.1L2068.2 603.6L2070.2 603.9L2072.2 604.3L2074.2 604.6L2076.2 604.7L2078.2 605.2L2080.2 605.5L2082.2 605.8L2084.2 606.3L2086.2 606.7L2088.2 607.0L2090.2 607.7L2092.2 608.4L2094.2 609.3L2096.2 610.5L2098.2 611.9L2100.2 613.0L2102.2 613.8L2104.2 614.9L2106.2 615.7L2108.2 616.2L2110.2 616.2L2112.2 616.4L2114.2 616.4L2116.2 616.5L2118.2 616.6L2120.2 616.3L2122.2 616.4L2124.2 616.5L2126.2 616.4L2128.2 616.4L2130.2 616.8L2132.2 617.1L2134.2 617.9L2136.2 618.8L2138.2 619.9L2140.2 620.8L2142.2 622.1L2144.2 623.5L2146.2 625.0L2148.2 627.0L2150.2 628.7L2152.2 630.8L2154.2 632.9L2156.2 634.9L2158.2 636.6L2160.2 639.1L2162.2 641.6L2164.2 643.7L2166.2 645.8L2168.2 648.2L2170.2 650.7L2172.2 653.0L2174.2 655.3L2176.2 657.4L2178.2 659.7L2180.2 661.7L2182.2 663.7L2184.2 665.8L2186.2 667.9L2188.2 670.0L2190.2 672.0L2192.2 673.9L2194.2 675.9L2196.2 677.6L2198.2 679.2L2200.2 681.2L2202.2 683.1L2204.2 684.8L2206.2 686.5L2208.2 688.3L2210.2 690.0L2212.2 691.4L2214.2 693.0L2216.2 694.2L2218.2 695.7L2220.2 696.6L2222.2 697.6L2224.2 698.5L2226.2 699.3L2228.2 699.9L2230.2 700.8L2232.2 701.4L2234.2 702.1L2236.2 703.0L2238.2 703.7L2240.2 704.6L2242.2 705.4L2244.2 706.5L2246.2 707.3L2248.2 708.3L2250.2 709.2L2252.2 710.2L2254.2 711.3L2256.2 712.4L2258.2 713.5L2260.2 714.6L2262.2 715.7L2264.2 716.8L2266.2 718.1L2268.2 719.2L2270.2 720.4L2272.2 721.6L2274.2 723.1L2276.2 724.2L2278.2 725.8L2280.2 727.1L2282.2 728.7L2284.2 730.3L2286.2 732.0L2288.2 733.7L2290.2 736.0L2292.2 738.3L2294.2 741.2L2296.2 744.2L2298.2 747.4L2300.2 750.8L2302.2 754.4L2304.2 757.9L2306.2 761.2L2308.2 764.6L2310.2 767.7L2312.2 770.8L2314.2 773.9L2316.0 776.7" fill="none" stroke="#66aa00" stroke-width="8.4" stroke-linejoin="round" stroke-linecap="butt"/>
<path d="M168.0 788.5L170.0 788.5L172.0 789.5L174.0 788.1L176.0 788.1L178.0 789.5L180.0 787.5L182.0 788.6L184.0 789.3L186.0 789.8L188.0 790.3L190.0 788.9L192.0 789.0L194.0 790.0L196.0 789.9L198.0 791.2L200.0 791.5L202.0 791.9L204.0 793.4L206.0 791.4L208.0 791.9L210.0 791.1L212.0 791.6L214.0 791.5L216.0 792.7L218.0 791.0L220.0 791.0L222.0 792.3L224.0 792.2L226.0 792.2L228.0 793.8L230.0 793.4L232.0 793.7L234.0 791.9L236.0 792.8L238.0 791.8L240.0 794.4L242.0 791.3L244.0 791.2L246.0 792.2L248.0 793.2L250.0 791.1L252.0 790.9L254.0 792.8L256.0 792.6L258.0 791.3L260.0 792.8L262.0 793.5L264.0 792.2L266.0 794.3L268.0 790.0L270.0 790.6L272.0 793.1L274.0 792.9L276.0 793.5L278.0 790.5L280.0 791.7L282.0 792.2L284.0 790.1L286.0 790.4L288.0 792.7L290.0 794.9L292.0 793.4L294.0 792.1L296.0 790.6L298.0 788.7L300.0 791.2L302.0 790.5L304.0 793.2L306.0 792.9L308.0 791.7L310.0 792.3L312.0 790.6L314.0 788.9L316.0 790.5L318.0 792.7L320.0 797.1L322.0 798.1L324.0 791.5L326.0 790.2L328.0 790.3L330.0 790.7L332.0 790.9L334.0 791.8L336.0 795.4L338.0 792.8L340.0 795.3L342.0 795.3L344.0 795.4L346.0 793.8L348.0 791.4L350.0 791.4L352.0 796.2L354.0 793.9L356.0 794.2L358.0 795.6L360.0 799.8L362.0 795.2L364.0 798.4L366.0 795.2L368.0 794.9L370.0 793.4L372.0 793.9L374.0 793.3L376.0 794.7L378.0 796.5L380.0 796.9L382.0 796.9L384.0 796.9L386.0 795.6L388.0 794.6L390.0 794.9L392.0 795.3L394.0 794.8L396.0 795.1L398.0 797.4L400.0 801.1L402.0 801.7L404.0 797.2L406.0 797.5L408.0 797.9L410.0 798.0L412.0 796.3L414.0 798.1L416.0 796.7L418.0 798.6L420.0 797.6L422.0 796.8L424.0 796.8L426.0 797.9L428.0 799.0L430.0 797.2L432.0 797.5L434.0 797.5L436.0 797.7L438.0 798.6L440.0 797.5L442.0 797.7L444.0 798.4L446.0 798.0L448.0 798.4L450.0 798.2L452.0 798.5L454.0 798.6L456.0 798.9L458.0 798.7L460.0 798.7L462.0 798.5L464.0 798.8L466.0 798.6L468.0 798.9L470.0 799.1L472.0 799.3L474.0 799.2L476.0 799.0L478.0 799.8L480.0 799.2L482.0 799.4L484.0 799.4L486.0 799.6L488.0 799.5L490.0 799.4L492.0 799.3L494.0 799.9L496.0 799.8L498.0 799.9L500.0 800.0L502.0 799.7L504.0 799.7L506.0 800.0L508.0 800.3L510.0 800.1L512.0 800.3L514.0 800.2L516.0 800.6L518.0 800.5L520.0 800.4L522.0 800.2L524.0 800.5L526.0 800.6L528.0 800.5L530.0 800.6L532.0 800.6L534.0 800.6L536.0 800.8L538.0 800.7L540.0 800.6L542.0 800.7L544.0 800.9L546.0 801.2L548.0 801.0L550.0 801.2L552.0 801.1L554.0 800.7L556.0 801.1L558.0 801.2L560.0 801.1L562.0 801.0L564.0 801.4L566.0 801.0L568.0 801.4L570.0 801.4L572.0 801.3L574.0 801.2L576.0 801.2L578.0 801.2L580.0 801.2L582.0 801.3L584.0 801.6L586.0 801.3L588.0 801.4L590.0 800.9L592.0 801.2L594.0 801.3L596.0 800.9L598.0 801.0L600.0 800.9L602.0 801.1L604.0 801.1L606.0 801.3L608.0 801.2L610.0 801.1L612.0 800.8L614.0 800.9L616.0 801.1L618.0 800.7L620.0 800.9L622.0 800.8L624.0 800.9L626.0 800.5L628.0 800.7L630.0 800.8L632.0 800.6L634.0 800.6L636.0 800.4L638.0 800.4L640.0 800.4L642.0 800.2L644.0 800.3L646.0 800.1L648.0 800.3L650.0 800.0L652.0 800.2L654.0 800.7L656.0 799.9L658.0 800.0L660.0 799.8L662.0 799.8L664.0 799.8L666.0 800.0L668.0 799.7L670.0 799.9L672.0 799.4L674.0 799.6L676.0 799.7L678.0 799.8L680.0 799.3L682.0 799.3L684.0 799.7L686.0 799.2L688.0 799.4L690.0 799.2L692.0 799.3L694.0 799.5L696.0 799.3L698.0 799.3L700.0 798.8L702.0 799.0L704.0 799.4L706.0 799.0L708.0 799.0L710.0 798.8L711.0 798.8" fill="none" stroke="#0000ff" stroke-width="8.4" stroke-linejoin="round" stroke-linecap="butt"/>
<path d="M748.2 793.1L750.2 793.1L752.2 792.7L754.2 792.8L756.2 792.5L758.2 792.9L760.2 792.2L762.2 794.9L764.2 793.4L766.2 792.8L768.2 791.6L770.2 791.7L772.2 791.9L774.2 792.5L776.2 793.7L778.2 793.1L780.2 792.6L782.2 793.1L784.2 795.9L786.2 792.5L788.2 793.4L790.2 792.7L792.2 792.2L794.2 791.7L796.2 792.4L798.2 793.0L800.2 791.7L802.2 791.4L804.2 792.6L806.2 790.7L808.2 793.3L810.2 792.0L812.2 793.1L814.2 793.4L816.2 791.6L818.2 791.7L820.2 793.7L822.2 792.2L824.2 792.9L826.2 792.7L828.2 793.4L830.2 793.1L832.2 792.4L834.2 792.2L836.2 792.4L838.2 792.6L840.2 793.1L842.2 792.8L844.2 793.7L846.2 792.3L848.2 792.7L850.2 794.1L852.2 793.1L854.2 793.1L856.2 792.0L858.2 792.3L860.2 792.1L862.2 792.3L864.2 791.9L866.2 792.8L868.2 791.7L870.2 792.6L872.2 792.4L874.2 791.2L876.2 794.6L878.2 791.2L880.2 791.9L882.2 794.4L884.2 792.3L886.2 792.0L888.2 791.8L890.2 791.4L892.2 791.0L894.2 792.4L896.2 791.8L898.2 792.9L900.2 792.0L902.2 792.7L904.2 792.8L906.2 790.9L908.2 793.0L910.2 791.4L912.2 792.5L914.2 794.1L916.2 792.2L918.2 792.3L920.2 791.7L922.2 792.5L924.2 792.8L926.2 792.1L928.2 793.0L930.2 792.6L932.2 792.9L934.2 791.7L936.2 793.1L938.2 792.1L940.2 792.8L942.2 793.3L944.2 792.7L946.2 793.5L948.2 792.3L950.2 792.3L952.2 794.2L954.2 792.8L956.2 792.9L958.2 794.9L960.2 795.0L962.2 793.2L964.2 793.1L966.2 794.4L968.2 796.3L970.2 798.1L972.2 796.2L974.2 793.4L976.2 795.8L978.2 794.0L980.2 798.1L982.2 797.0L984.2 795.1L986.2 795.3L988.2 794.5L990.2 795.8L992.2 798.4L994.2 798.3L996.2 794.9L998.2 796.4L1000.2 797.1L1002.2 796.3L1004.2 797.9L1006.2 801.6L1008.2 799.6L1010.2 797.5L1012.2 796.9L1014.2 795.3L1016.2 797.5L1018.2 797.3L1020.2 796.9L1022.2 798.7L1024.2 804.5L1026.2 801.2L1028.2 798.2L1030.2 798.9L1032.2 797.9L1034.2 797.4L1036.2 798.1L1038.2 798.9L1040.2 801.8L1042.2 799.3L1044.2 799.2L1046.2 798.5L1048.2 796.6L1050.2 800.3L1052.2 799.0L1054.2 802.2L1056.2 803.2L1058.2 802.0L1060.2 800.9L1062.2 801.2L1064.2 801.3L1066.2 800.7L1068.2 800.4L1070.2 799.7L1072.2 799.2L1074.2 798.7L1076.2 803.0L1078.2 799.5L1080.2 799.7L1082.2 798.5L1084.2 802.9L1086.2 807.6L1088.2 804.0L1090.2 804.3L1092.2 799.4L1094.2 798.3L1096.2 798.4L1098.2 798.5L1100.2 799.7L1102.2 802.6L1104.2 804.7L1106.2 801.3L1108.2 797.2L1110.2 798.4L1112.2 796.7L1114.2 796.8L1116.2 799.5L1118.2 799.5L1120.2 796.9L1122.2 797.0L1124.2 795.9L1126.2 796.6L1128.2 794.8L1130.2 794.7L1132.2 795.0L1134.2 797.3L1136.2 797.2L1138.2 796.0L1140.2 800.8L1142.2 797.8L1144.2 796.8L1146.2 798.0L1148.2 796.4L1150.2 795.1L1152.2 798.8L1154.2 795.2L1156.2 795.3L1158.2 794.5L1160.2 795.8L1162.2 797.2L1164.2 795.8L1166.2 793.3L1168.2 792.8L1170.2 792.6L1172.2 795.0L1174.2 797.6L1176.2 797.9L1178.2 805.5L1180.2 803.5L1182.2 799.5L1184.2 796.5L1186.2 796.5L1188.2 796.9L1190.2 797.5L1192.2 796.7L1194.2 797.1L1196.2 800.2L1198.2 799.7L1200.2 795.3L1202.2 798.7L1204.2 795.4L1206.2 795.9L1208.2 796.3L1210.2 798.1L1212.2 797.5L1214.2 801.8L1216.2 800.0L1218.2 798.0L1220.2 794.1L1222.2 797.8L1224.2 795.2L1226.2 796.8L1228.2 801.3L1230.2 802.5L1232.2 799.4L1234.2 795.6L1236.2 795.9L1238.2 797.3L1240.2 796.4L1242.2 797.8L1244.2 796.1L1246.2 799.2L1248.2 797.9L1250.2 795.6L1252.2 795.9L1254.2 796.6L1256.2 795.2L1258.2 795.2L1260.2 796.1L1262.2 800.6L1264.2 798.6L1266.2 797.1L1268.2 795.0L1270.2 796.4L1272.2 795.9L1274.2 797.4L1276.2 800.0L1278.2 801.1L1280.2 798.9L1282.2 795.3L1284.2 797.7L1286.2 795.9L1288.2 794.3L1290.2 797.2L1292.2 795.7L1294.2 795.3L1296.2 795.6L1298.2 794.3L1300.2 797.3L1302.2 796.4L1304.2 795.9L1306.2 797.0L1308.2 795.8L1310.2 795.7L1312.2 796.5L1314.2 795.8L1316.2 797.6L1318.2 795.4L1320.2 796.0L1322.2 796.4L1324.2 795.9L1326.2 795.8L1328.2 797.6L1330.2 795.3L1332.2 795.8L1334.2 794.6L1336.2 795.5L1338.2 796.1L1340.2 796.4L1342.2 794.9L1344.2 796.7L1346.2 797.4L1348.2 795.6L1350.2 797.3L1352.2 795.9L1354.2 795.2L1356.2 795.9L1358.2 795.1L1360.2 796.6L1362.2 796.1L1364.2 795.2L1366.2 797.1L1368.2 797.0L1370.2 798.6L1372.2 795.9L1374.2 794.6L1376.2 794.0L1378.2 794.9L1380.2 794.4L1382.2 795.0L1384.2 795.3L1386.2 794.7L1388.2 795.1L1390.2 796.6L1392.2 798.8L1394.2 797.6L1396.2 796.0L1398.2 794.1L1400.2 793.9L1402.2 795.8L1404.2 794.3L1406.2 794.1L1408.2 794.9L1410.2 794.0L1412.2 795.0L1414.2 793.8L1416.2 794.1L1418.2 794.0L1420.2 794.2L1422.2 794.6L1424.2 794.0L1426.2 795.0L1428.2 793.4L1430.2 794.5L1432.2 794.2L1434.2 793.1L1436.2 794.3L1438.2 793.2L1440.2 794.0L1442.2 794.5L1444.2 795.0L1446.2 793.9L1448.2 794.2L1450.2 794.0L1452.2 794.2L1454.2 792.6L1456.2 794.2L1458.2 794.2L1460.2 794.5L1462.2 793.8L1464.2 794.7L1466.2 795.2L1468.2 794.5L1470.2 794.4L1472.2 794.4L1474.2 795.3L1476.2 795.1L1478.2 795.2L1480.2 794.8L1482.2 794.9L1484.2 794.7L1486.2 795.6L1488.2 795.2L1490.2 795.2L1492.2 795.3L1494.2 795.4L1496.2 795.3L1498.2 795.3L1500.2 795.7L1502.2 796.0L1504.2 796.3L1506.2 796.4L1508.2 796.6L1510.2 797.1L1512.2 797.2L1514.2 797.6L1516.2 797.9L1518.2 798.1L1520.2 798.4L1522.2 798.9L1524.2 799.4L1526.2 800.0L1528.2 800.5L1530.2 801.0L1532.2 801.7L1534.2 802.3L1536.2 803.1L1538.2 803.7L1540.2 804.1L1542.2 804.9L1544.2 805.5L1546.2 806.4L1548.2 806.9L1550.2 807.7L1552.2 808.4L1554.2 808.5L1556.2 809.1L1558.2 809.5L1560.2 810.4L1562.2 810.7L1564.2 811.4L1566.2 811.3L1568.2 811.6L1570.2 812.1L1572.2 812.4L1574.2 812.8L1576.2 813.0L1578.2 813.8L1580.2 814.1L1582.2 814.5L1584.2 814.7L1586.2 815.1L1588.2 815.5L1590.2 816.1L1592.2 816.5L1594.2 816.5L1596.2 817.0L1598.2 817.3L1600.2 817.4L1602.2 817.9L1604.2 817.7L1606.2 817.5L1608.2 817.5L1610.2 817.4L1612.2 817.1L1614.2 816.6L1616.2 816.3L1618.2 815.8L1620.2 815.3L1622.2 814.9L1624.2 815.0L1626.2 814.1L1628.2 814.0L1630.2 813.6L1632.2 813.6L1634.2 813.6L1636.2 813.4L1638.2 813.8L1640.2 814.1L1642.2 813.6L1644.2 813.6L1646.2 813.5L1648.2 813.5L1650.2 813.5L1652.2 813.5L1654.2 813.3L1656.2 813.0L1658.2 812.6L1660.2 812.3L1662.2 811.7L1664.2 811.3L1666.2 810.6L1668.2 810.2L1670.2 809.4L1672.2 808.9L1674.2 808.7L1676.2 808.3L1678.2 807.8L1680.2 807.7L1682.2 807.6L1684.2 806.7L1686.2 806.2L1688.2 806.1L1690.2 805.7L1692.2 805.4L1694.2 804.9L1696.2 805.0L1698.2 804.8L1700.2 804.9L1702.2 805.0L1704.2 805.1L1706.2 804.9L1708.2 805.0L1710.2 804.9L1712.2 805.1L1714.2 804.8L1716.2 804.8L1718.2 804.7L1720.2 805.0L1722.2 804.9L1724.2 804.7L1726.2 804.8L1728.2 804.8L1730.2 804.4L1732.2 805.2L1734.2 805.3L1736.2 805.3L1738.2 805.7L1740.2 806.0L1742.2 806.1L1744.2 806.0L1746.2 806.1L1748.2 806.1L1750.2 805.9L1752.2 805.9L1754.2 805.8L1756.2 805.5L1758.2 805.4L1760.2 805.0L1762.2 805.4L1764.2 805.2L1766.2 804.7L1768.2 804.6L1770.2 804.5L1772.2 804.3L1774.2 804.4L1776.2 804.0L1778.2 804.2L1780.2 804.1L1782.2 804.2L1784.2 804.1L1786.2 804.3L1788.2 804.2L1790.2 804.1L1792.2 804.2L1794.2 804.3L1796.2 804.6L1798.2 804.6L1800.2 804.6L1802.2 804.6L1804.2 804.8L1806.2 805.0L1808.2 804.9L1810.2 805.3L1812.2 805.2L1814.2 805.4L1816.2 805.4L1818.2 805.5L1820.2 805.7L1822.2 806.2L1824.2 805.9L1826.2 806.1L1828.2 806.6L1830.2 806.4L1832.2 806.6L1834.2 806.6L1836.2 806.6L1838.2 806.6L1840.2 806.7L1842.2 806.6L1844.2 806.8L1846.2 806.8L1848.2 806.8L1850.2 807.0L1852.2 806.7L1854.2 807.1L1856.2 807.2L1858.2 806.9L1860.2 807.2L1862.2 807.4L1864.2 807.3L1866.2 807.2L1868.2 807.2L1870.2 807.5L1872.2 807.7L1874.2 807.3L1876.2 807.5L1878.2 807.5L1880.2 808.0L1882.2 807.7L1884.2 807.7L1886.2 807.8L1888.2 808.1L1890.2 807.9L1892.2 807.9L1894.2 808.2L1896.2 808.1L1898.2 808.2L1900.2 808.6L1902.2 808.3L1904.2 808.6L1906.2 808.7L1908.2 808.8L1910.2 808.8L1912.2 808.9L1914.2 808.8L1916.2 809.2L1918.2 809.2L1920.2 809.4L1922.2 809.4L1924.2 809.5L1926.2 809.5L1928.2 809.7L1930.2 809.9L1932.2 810.1L1934.2 810.2L1936.2 810.4L1938.2 810.3L1940.2 810.5L1942.2 810.6L1944.2 810.6L1946.2 811.1L1948.2 811.2L1950.2 811.6L1952.2 811.8L1954.2 812.1L1956.2 812.4L1958.2 812.5L1960.2 812.7L1962.2 812.7L1964.2 812.8L1966.2 813.2L1968.2 812.8L1970.2 812.9L1972.2 813.1L1974.2 813.3L1976.2 813.3L1978.2 813.6L1980.2 813.4L1982.2 813.6L1984.2 814.0L1986.2 813.9L1988.2 814.0L1990.2 813.8L1992.2 814.1L1994.2 814.0L1996.2 814.3L1998.2 814.6L2000.2 814.5L2002.2 814.8L2004.2 814.8L2006.2 815.0L2008.2 815.5L2010.2 815.8L2012.2 816.2L2014.2 816.5L2016.2 817.0L2018.2 817.7L2020.2 818.3L2022.2 819.0L2024.2 819.0L2026.2 819.3L2028.2 820.1L2030.2 820.3L2032.2 820.6L2034.2 820.9L2036.2 820.8L2038.2 821.1L2040.2 821.3L2042.2 822.0L2044.2 821.8L2046.2 823.2L2048.2 825.2L2050.2 824.3L2052.2 822.8L2054.2 822.9L2056.2 822.6L2058.2 823.0L2060.2 823.1L2062.2 823.4L2064.2 823.5L2066.2 823.7L2068.2 824.2L2070.2 824.2L2072.2 824.7L2074.2 824.9L2076.2 825.3L2078.2 825.6L2080.2 825.8L2082.2 826.6L2084.2 826.8L2086.2 826.8L2088.2 827.6L2090.2 828.4L2092.2 828.3L2094.2 829.1L2096.2 830.0L2098.2 831.0L2100.2 832.4L2102.2 834.2L2104.2 834.9L2106.2 835.8L2108.2 836.0L2110.2 836.1L2112.2 836.2L2114.2 836.3L2116.2 836.2L2118.2 835.7L2120.2 836.0L2122.2 835.8L2124.2 835.5L2126.2 835.5L2128.2 835.5L2130.2 836.0L2132.2 836.3L2134.2 837.4L2136.2 838.9L2138.2 839.8L2140.2 840.9L2142.2 842.5L2144.2 843.8L2146.2 846.0L2148.2 847.4L2150.2 849.2L2152.2 851.0L2154.2 852.9L2156.2 854.3L2158.2 856.1L2160.2 857.9L2162.2 859.6L2164.2 861.4L2166.2 863.1L2168.2 865.0L2170.2 866.6L2172.2 868.6L2174.2 870.1L2176.2 872.3L2178.2 874.2L2180.2 876.0L2182.2 878.0L2184.2 880.0L2186.2 882.2L2188.2 883.9L2190.2 886.0L2192.2 888.3L2194.2 890.2L2196.2 891.9L2198.2 893.6L2200.2 895.1L2202.2 896.4L2204.2 897.7L2206.2 898.8L2208.2 900.1L2210.2 901.2L2212.2 902.1L2214.2 903.4L2216.2 904.2L2218.2 905.1L2220.2 906.3L2222.2 907.2L2224.2 908.8L2226.2 909.5L2228.2 910.5L2230.2 911.7L2232.2 912.8L2234.2 914.1L2236.2 914.6L2238.2 916.1L2240.2 917.3L2242.2 918.4L2244.2 919.3L2246.2 920.6L2248.2 921.7L2250.2 923.1L2252.2 924.2L2254.2 925.4L2256.2 927.0L2258.2 928.6L2260.2 929.3L2262.2 930.9L2264.2 932.3L2266.2 933.9L2268.2 935.3L2270.2 936.9L2272.2 938.5L2274.2 940.2L2276.2 941.8L2278.2 943.6L2280.2 945.7L2282.2 947.4L2284.2 949.8L2286.2 952.1L2288.2 954.9L2290.2 958.5L2292.2 961.3L2294.2 964.3L2296.2 967.0L2298.2 969.4L2300.2 971.9L2302.2 973.9L2304.2 976.4L2306.2 978.1L2308.2 980.6L2310.2 982.9L2312.2 985.4L2314.2 987.5L2316.0 989.6" fill="none" stroke="#0000ff" stroke-width="8.4" stroke-linejoin="round" stroke-linecap="butt"/>
<path d="M168.0 1006.7L170.0 1006.7L172.0 1006.3L174.0 1006.6L176.0 1006.7L178.0 1006.8L180.0 1007.0L182.0 1006.4L184.0 1006.9L186.0 1006.6L188.0 1006.3L190.0 1007.0L192.0 1006.4L194.0 1006.2L196.0 1007.3L198.0 1007.0L200.0 1006.4L202.0 1007.1L204.0 1007.1L206.0 1006.4L208.0 1008.2L210.0 1006.6L212.0 1006.9L214.0 1005.5L216.0 1006.9L218.0 1006.4L220.0 1006.9L222.0 1006.6L224.0 1007.3L226.0 1007.7L228.0 1008.4L230.0 1006.0L232.0 1007.8L234.0 1007.0L236.0 1005.5L238.0 1007.2L240.0 1006.8L242.0 1007.6L244.0 1006.3L246.0 1006.8L248.0 1007.0L250.0 1006.9L252.0 1006.5L254.0 1007.2L256.0 1007.2L258.0 1006.3L260.0 1007.7L262.0 1008.1L264.0 1007.0L266.0 1007.4L268.0 1007.2L270.0 1007.2L272.0 1007.5L274.0 1007.2L276.0 1006.6L278.0 1006.7L280.0 1008.2L282.0 1007.4L284.0 1007.1L286.0 1007.3L288.0 1007.8L290.0 1007.5L292.0 1006.6L294.0 1007.2L296.0 1007.4L298.0 1007.6L300.0 1006.6L302.0 1006.8L304.0 1007.7L306.0 1007.8L308.0 1007.5L310.0 1007.9L312.0 1007.6L314.0 1008.4L316.0 1007.5L318.0 1008.8L320.0 1009.3L322.0 1010.3L324.0 1007.9L326.0 1007.5L328.0 1009.1L330.0 1007.9L332.0 1007.8L334.0 1008.0L336.0 1008.2L338.0 1007.7L340.0 1009.2L342.0 1009.0L344.0 1008.5L346.0 1008.3L348.0 1008.0L350.0 1010.0L352.0 1008.6L354.0 1008.1L356.0 1008.8L358.0 1009.2L360.0 1009.9L362.0 1009.8L364.0 1010.7L366.0 1008.6L368.0 1009.5L370.0 1008.7L372.0 1009.6L374.0 1009.5L376.0 1008.8L378.0 1008.7L380.0 1009.9L382.0 1009.7L384.0 1009.1L386.0 1008.7L388.0 1010.5L390.0 1009.9L392.0 1010.1L394.0 1009.8L396.0 1009.8L398.0 1010.3L400.0 1011.4L402.0 1011.0L404.0 1009.3L406.0 1010.7L408.0 1010.2L410.0 1010.1L412.0 1010.7L414.0 1009.7L416.0 1009.2L418.0 1010.7L420.0 1010.4L422.0 1010.3L424.0 1010.2L426.0 1010.6L428.0 1010.5L430.0 1010.6L432.0 1011.1L434.0 1010.9L436.0 1010.5L438.0 1010.6L440.0 1010.4L442.0 1010.7L444.0 1010.6L446.0 1010.6L448.0 1010.6L450.0 1011.4L452.0 1011.7L454.0 1010.9L456.0 1011.0L458.0 1011.4L460.0 1011.5L462.0 1011.2L464.0 1011.4L466.0 1011.8L468.0 1011.4L470.0 1011.4L472.0 1011.5L474.0 1011.6L476.0 1011.7L478.0 1011.7L480.0 1011.8L482.0 1012.3L484.0 1012.1L486.0 1012.0L488.0 1012.3L490.0 1012.1L492.0 1012.3L494.0 1012.3L496.0 1012.6L498.0 1012.5L500.0 1012.5L502.0 1012.6L504.0 1013.0L506.0 1013.0L508.0 1013.1L510.0 1013.3L512.0 1013.0L514.0 1013.2L516.0 1013.3L518.0 1013.5L520.0 1013.6L522.0 1013.8L524.0 1013.9L526.0 1014.0L528.0 1014.3L530.0 1014.2L532.0 1014.3L534.0 1014.5L536.0 1014.4L538.0 1014.6L540.0 1014.9L542.0 1014.8L544.0 1015.0L546.0 1015.3L548.0 1015.2L550.0 1015.3L552.0 1015.7L554.0 1015.7L556.0 1016.0L558.0 1016.1L560.0 1016.4L562.0 1016.6L564.0 1016.9L566.0 1016.6L568.0 1016.6L570.0 1016.6L572.0 1016.7L574.0 1017.0L576.0 1017.1L578.0 1017.2L580.0 1017.3L582.0 1017.2L584.0 1017.3L586.0 1017.2L588.0 1017.5L590.0 1017.2L592.0 1017.4L594.0 1017.2L596.0 1017.3L598.0 1017.1L600.0 1017.1L602.0 1017.1L604.0 1017.0L606.0 1016.7L608.0 1016.6L610.0 1016.5L612.0 1016.5L614.0 1016.3L616.0 1016.4L618.0 1016.0L620.0 1015.8L622.0 1015.8L624.0 1015.4L626.0 1015.3L628.0 1015.4L630.0 1014.9L632.0 1014.9L634.0 1014.8L636.0 1014.7L638.0 1014.3L640.0 1014.3L642.0 1014.4L644.0 1014.1L646.0 1014.3L648.0 1014.1L650.0 1013.8L652.0 1013.8L654.0 1013.5L656.0 1013.4L658.0 1013.6L660.0 1013.3L662.0 1013.0L664.0 1013.0L666.0 1013.0L668.0 1012.9L670.0 1012.6L672.0 1012.5L674.0 1012.5L676.0 1012.5L678.0 1012.4L680.0 1012.3L682.0 1012.4L684.0 1012.2L686.0 1012.2L688.0 1011.9L690.0 1011.9L692.0 1011.8L694.0 1011.8L696.0 1011.7L698.0 1011.7L700.0 1011.6L702.0 1011.3L704.0 1011.1L706.0 1011.3L708.0 1011.2L710.0 1011.1L711.0 1011.1" fill="none" stroke="#ff8000" stroke-width="8.4" stroke-linejoin="round" stroke-linecap="butt"/>
<path d="M748.2 1006.7L749.2 1006.7L750.2 1005.9L751.2 1007.0L752.2 1007.0L753.2 1006.4L754.2 1006.4L755.2 1006.3L756.2 1006.5L757.2 1006.5L758.2 1006.3L759.2 1006.4L760.2 1006.9L761.2 1006.6L762.2 1006.2L763.2 1006.2L764.2 1006.0L765.2 1006.3L766.2 1005.9L767.2 1006.5L768.2 1006.5L769.2 1006.0L770.2 1005.9L771.2 1006.9L772.2 1006.3L773.2 1006.1L774.2 1006.2L775.2 1006.3L776.2 1006.1L777.2 1005.8L778.2 1007.4L779.2 1006.1L780.2 1006.2L781.2 1006.1L782.2 1006.5L783.2 1005.7L784.2 1006.5L785.2 1006.3L786.2 1006.7L787.2 1006.3L788.2 1006.4L789.2 1006.7L790.2 1006.5L791.2 1006.0L792.2 1006.9L793.2 1005.9L794.2 1006.6L795.2 1006.0L796.2 1006.3L797.2 1005.8L798.2 1006.9L799.2 1006.5L800.2 1006.8L801.2 1007.3L802.2 1007.4L803.2 1007.7L804.2 1007.5L805.2 1007.8L806.2 1007.8L807.2 1008.4L808.2 1008.7L809.2 1009.1L810.2 1009.0L811.2 1009.1L812.2 1008.7L813.2 1008.9L814.2 1008.8L815.2 1008.6L816.2 1008.8L817.2 1008.2L818.2 1008.8L819.2 1008.9L820.2 1008.9L821.2 1007.5L822.2 1008.3L823.2 1007.7L824.2 1007.9L825.2 1007.9L826.2 1007.8L827.2 1007.8L828.2 1008.9L829.2 1007.3L830.2 1007.3L831.2 1007.4L832.2 1007.3L833.2 1007.6L834.2 1007.4L835.2 1006.3L836.2 1006.4L837.2 1006.1L838.2 1006.0L839.2 1005.1L840.2 1006.2L841.2 1006.3L842.2 1006.2L843.2 1006.7L844.2 1005.6L845.2 1006.2L846.2 1005.9L847.2 1006.0L848.2 1005.6L849.2 1006.2L850.2 1005.9L851.2 1007.7L852.2 1007.0L853.2 1006.0L854.2 1005.8L855.2 1007.1L856.2 1005.9L857.2 1005.9L858.2 1005.9L859.2 1006.0L860.2 1006.0L861.2 1007.0L862.2 1006.4L863.2 1006.3L864.2 1007.0L865.2 1005.7L866.2 1005.9L867.2 1005.7L868.2 1005.9L869.2 1005.4L870.2 1005.6L871.2 1005.4L872.2 1005.8L873.2 1005.9L874.2 1005.6L875.2 1005.7L876.2 1005.4L877.2 1006.4L878.2 1005.3L879.2 1005.3L880.2 1005.4L881.2 1005.7L882.2 1005.9L883.2 1005.6L884.2 1005.4L885.2 1006.0L886.2 1006.9L887.2 1005.8L888.2 1005.8L889.2 1005.9L890.2 1005.6L891.2 1006.0L892.2 1004.9L893.2 1005.7L894.2 1005.0L895.2 1006.4L896.2 1005.8L897.2 1005.6L898.2 1005.5L899.2 1005.2L900.2 1005.1L901.2 1004.7L902.2 1005.1L903.2 1005.9L904.2 1004.9L905.2 1005.5L906.2 1005.2L907.2 1005.1L908.2 1005.8L909.2 1005.5L910.2 1005.3L911.2 1005.8L912.2 1005.7L913.2 1005.0L914.2 1005.3L915.2 1005.8L916.2 1005.6L917.2 1006.3L918.2 1006.5L919.2 1004.8L920.2 1006.1L921.2 1004.7L922.2 1005.7L923.2 1005.3L924.2 1005.1L925.2 1005.7L926.2 1005.3L927.2 1005.3L928.2 1005.7L929.2 1005.2L930.2 1005.7L931.2 1005.4L932.2 1005.7L933.2 1005.7L934.2 1005.8L935.2 1005.3L936.2 1006.4L937.2 1005.6L938.2 1006.5L939.2 1005.9L940.2 1005.7L941.2 1005.7L942.2 1006.3L943.2 1006.2L944.2 1006.2L945.2 1005.7L946.2 1005.9L947.2 1006.3L948.2 1006.2L949.2 1005.6L950.2 1008.5L951.2 1006.1L952.2 1007.3L953.2 1006.4L954.2 1007.4L955.2 1007.5L956.2 1006.8L957.2 1006.5L958.2 1006.8L959.2 1007.0L960.2 1006.2L961.2 1007.3L962.2 1006.6L963.2 1007.0L964.2 1006.0L965.2 1007.7L966.2 1007.6L967.2 1008.5L968.2 1007.9L969.2 1007.9L970.2 1008.2L971.2 1008.7L972.2 1008.1L973.2 1008.1L974.2 1008.0L975.2 1009.2L976.2 1007.8L977.2 1007.8L978.2 1007.5L979.2 1008.7L980.2 1007.4L981.2 1008.3L982.2 1009.3L983.2 1006.7L984.2 1007.7L985.2 1009.0L986.2 1008.3L987.2 1007.4L988.2 1008.1L989.2 1007.8L990.2 1010.3L991.2 1009.5L992.2 1010.1L993.2 1011.2L994.2 1010.9L995.2 1012.5L996.2 1011.0L997.2 1012.2L998.2 1012.3L999.2 1015.4L1000.2 1013.2L1001.2 1013.6L1002.2 1014.9L1003.2 1016.2L1004.2 1015.8L1005.2 1017.2L1006.2 1019.6L1007.2 1020.0L1008.2 1020.5L1009.2 1021.7L1010.2 1021.7L1011.2 1022.6L1012.2 1023.6L1013.2 1024.3L1014.2 1026.2L1015.2 1026.2L1016.2 1028.5L1017.2 1028.6L1018.2 1030.5L1019.2 1030.1L1020.2 1032.6L1021.2 1033.7L1022.2 1035.3L1023.2 1036.1L1024.2 1036.3L1025.2 1037.4L1026.2 1039.0L1027.2 1038.9L1028.2 1041.7L1029.2 1041.0L1030.2 1041.3L1031.2 1043.5L1032.2 1043.3L1033.2 1044.3L1034.2 1046.6L1035.2 1046.7L1036.2 1046.8L1037.2 1047.5L1038.2 1049.9L1039.2 1049.9L1040.2 1050.4L1041.2 1052.0L1042.2 1052.8L1043.2 1053.8L1044.2 1054.6L1045.2 1054.2L1046.2 1055.6L1047.2 1056.0L1048.2 1056.4L1049.2 1057.1L1050.2 1057.8L1051.2 1058.2L1052.2 1059.1L1053.2 1058.2L1054.2 1061.6L1055.2 1062.2L1056.2 1062.9L1057.2 1063.3L1058.2 1064.1L1059.2 1064.4L1060.2 1064.9L1061.2 1065.4L1062.2 1066.1L1063.2 1068.6L1064.2 1067.9L1065.2 1068.3L1066.2 1068.8L1067.2 1070.1L1068.2 1071.1L1069.2 1072.0L1070.2 1072.0L1071.2 1073.4L1072.2 1073.2L1073.2 1075.0L1074.2 1074.8L1075.2 1075.6L1076.2 1075.3L1077.2 1077.1L1078.2 1077.9L1079.2 1078.7L1080.2 1080.9L1081.2 1079.7L1082.2 1080.6L1083.2 1082.6L1084.2 1082.9L1085.2 1084.8L1086.2 1085.8L1087.2 1086.3L1088.2 1086.1L1089.2 1087.7L1090.2 1088.1L1091.2 1087.7L1092.2 1088.3L1093.2 1089.6L1094.2 1090.6L1095.2 1089.6L1096.2 1091.3L1097.2 1091.9L1098.2 1091.4L1099.2 1093.4L1100.2 1093.7L1101.2 1093.8L1102.2 1095.6L1103.2 1096.6L1104.2 1097.3L1105.2 1097.6L1106.2 1096.4L1107.2 1098.0L1108.2 1098.2L1109.2 1099.0L1110.2 1099.2L1111.2 1100.2L1112.2 1101.0L1113.2 1101.2L1114.2 1101.7L1115.2 1100.9L1116.2 1101.7L1117.2 1102.5L1118.2 1102.1L1119.2 1104.2L1120.2 1103.1L1121.2 1104.0L1122.2 1103.5L1123.2 1102.8L1124.2 1104.0L1125.2 1103.0L1126.2 1101.8L1127.2 1102.9L1128.2 1102.4L1129.2 1103.3L1130.2 1102.1L1131.2 1102.2L1132.2 1103.0L1133.2 1099.9L1134.2 1101.1L1135.2 1100.1L1136.2 1099.7L1137.2 1099.7L1138.2 1100.1L1139.2 1099.9L1140.2 1098.8L1141.2 1098.4L1142.2 1098.0L1143.2 1097.6L1144.2 1097.2L1145.2 1097.0L1146.2 1095.4L1147.2 1094.6L1148.2 1092.6L1149.2 1092.3L1150.2 1093.3L1151.2 1091.4L1152.2 1093.0L1153.2 1091.0L1154.2 1090.9L1155.2 1088.5L1156.2 1089.2L1157.2 1086.2L1158.2 1086.6L1159.2 1085.2L1160.2 1084.3L1161.2 1083.6L1162.2 1083.1L1163.2 1082.8L1164.2 1082.1L1165.2 1081.6L1166.2 1079.8L1167.2 1079.8L1168.2 1080.0L1169.2 1077.6L1170.2 1077.4L1171.2 1077.2L1172.2 1075.7L1173.2 1075.9L1174.2 1073.7L1175.2 1074.7L1176.2 1074.7L1177.2 1074.0L1178.2 1077.7L1179.2 1077.4L1180.2 1072.0L1181.2 1072.1L1182.2 1070.9L1183.2 1068.6L1184.2 1068.6L1185.2 1068.8L1186.2 1066.7L1187.2 1065.6L1188.2 1066.7L1189.2 1065.1L1190.2 1065.3L1191.2 1064.1L1192.2 1062.6L1193.2 1063.2L1194.2 1064.5L1195.2 1062.3L1196.2 1063.4L1197.2 1062.4L1198.2 1061.5L1199.2 1060.3L1200.2 1060.2L1201.2 1059.5L1202.2 1058.4L1203.2 1057.9L1204.2 1057.2L1205.2 1057.4L1206.2 1055.6L1207.2 1056.3L1208.2 1055.4L1209.2 1053.6L1210.2 1054.7L1211.2 1054.5L1212.2 1055.3L1213.2 1054.1L1214.2 1053.9L1215.2 1052.3L1216.2 1051.3L1217.2 1051.0L1218.2 1050.5L1219.2 1049.3L1220.2 1048.6L1221.2 1048.3L1222.2 1048.5L1223.2 1048.4L1224.2 1047.4L1225.2 1046.7L1226.2 1047.3L1227.2 1047.6L1228.2 1045.9L1229.2 1046.4L1230.2 1046.7L1231.2 1047.0L1232.2 1045.6L1233.2 1045.7L1234.2 1045.2L1235.2 1042.9L1236.2 1044.7L1237.2 1043.2L1238.2 1042.9L1239.2 1042.2L1240.2 1042.3L1241.2 1041.3L1242.2 1041.6L1243.2 1041.1L1244.2 1041.1L1245.2 1041.3L1246.2 1040.8L1247.2 1041.8L1248.2 1041.2L1249.2 1041.3L1250.2 1039.9L1251.2 1039.1L1252.2 1040.1L1253.2 1039.6L1254.2 1039.9L1255.2 1039.8L1256.2 1042.3L1257.2 1039.7L1258.2 1039.2L1259.2 1038.7L1260.2 1038.6L1261.2 1039.8L1262.2 1038.5L1263.2 1039.1L1264.2 1038.9L1265.2 1038.4L1266.2 1038.3L1267.2 1037.3L1268.2 1037.9L1269.2 1037.5L1270.2 1037.0L1271.2 1036.7L1272.2 1036.4L1273.2 1036.1L1274.2 1037.3L1275.2 1036.1L1276.2 1037.2L1277.2 1036.9L1278.2 1036.4L1279.2 1036.0L1280.2 1036.3L1281.2 1035.5L1282.2 1035.2L1283.2 1034.9L1284.2 1033.8L1285.2 1033.3L1286.2 1034.4L1287.2 1034.2L1288.2 1032.4L1289.2 1033.2L1290.2 1032.1L1291.2 1033.4L1292.2 1033.1L1293.2 1031.7L1294.2 1032.0L1295.2 1030.7L1296.2 1030.3L1297.2 1030.6L1298.2 1030.4L1299.2 1029.9L1300.2 1030.6L1301.2 1029.1L1302.2 1029.1L1303.2 1030.0L1304.2 1029.5L1305.2 1028.7L1306.2 1028.7L1307.2 1028.0L1308.2 1027.9L1309.2 1028.3L1310.2 1027.6L1311.2 1027.2L1312.2 1027.2L1313.2 1027.1L1314.2 1026.5L1315.2 1026.7L1316.2 1026.6L1317.2 1026.7L1318.2 1026.3L1319.2 1026.3L1320.2 1026.7L1321.2 1026.1L1322.2 1026.1L1323.2 1026.3L1324.2 1026.3L1325.2 1026.0L1326.2 1025.9L1327.2 1025.9L1328.2 1025.9L1329.2 1025.9L1330.2 1025.8L1331.2 1025.9L1332.2 1026.0L1333.2 1026.1L1334.2 1026.3L1335.2 1026.5L1336.2 1026.7L1337.2 1027.1L1338.2 1027.4L1339.2 1027.8L1340.2 1028.4L1341.2 1028.8L1342.2 1030.1L1343.2 1032.0L1344.2 1034.6L1345.2 1037.1L1346.2 1039.9L1347.2 1042.9L1348.2 1046.6L1349.2 1050.5L1350.2 1054.1L1351.2 1056.8L1352.2 1058.9L1353.2 1060.9L1354.2 1062.8L1355.2 1063.9L1356.2 1064.7L1357.2 1064.5L1358.2 1063.6L1359.2 1062.3L1360.2 1060.8L1361.2 1059.3L1362.2 1057.9L1363.2 1056.8L1364.2 1055.5L1365.2 1054.1L1366.2 1052.9L1367.2 1051.4L1368.2 1050.1L1369.2 1048.7L1370.2 1047.3L1371.2 1045.9L1372.2 1044.5L1373.2 1042.8L1374.2 1041.2L1375.2 1039.4L1376.2 1037.7L1377.2 1036.1L1378.2 1035.2L1379.2 1034.5L1380.2 1033.7L1381.2 1033.3L1382.2 1032.3L1383.2 1032.2L1384.2 1032.4L1385.2 1032.5L1386.2 1033.0L1387.2 1033.8L1388.2 1034.7L1389.2 1035.8L1390.2 1037.0L1391.2 1040.3L1392.2 1044.3L1393.2 1049.2L1394.2 1054.1L1395.2 1059.2L1396.2 1064.8L1397.2 1070.7L1398.2 1076.9L1399.2 1082.7L1400.2 1088.6L1401.2 1094.9L1402.2 1101.1L1403.2 1107.0L1404.2 1112.3L1405.2 1117.4L1406.2 1122.2L1407.2 1126.5L1408.2 1129.8L1409.2 1131.6L1410.2 1133.2L1411.2 1134.3L1412.2 1134.8L1413.2 1134.5L1414.2 1133.6L1415.2 1132.4L1416.2 1130.8L1417.2 1128.6L1418.2 1124.3L1419.2 1119.7L1420.2 1115.1L1421.2 1109.3L1422.2 1102.9L1423.2 1096.3L1424.2 1090.0L1425.2 1084.6L1426.2 1079.1L1427.2 1074.1L1428.2 1069.2L1429.2 1065.1L1430.2 1061.4L1431.2 1058.3L1432.2 1055.5L1433.2 1052.9L1434.2 1050.5L1435.2 1048.4L1436.2 1046.4L1437.2 1045.0L1438.2 1043.1L1439.2 1041.6L1440.2 1040.2L1441.2 1039.1L1442.2 1038.1L1443.2 1037.0L1444.2 1036.1L1445.2 1035.2L1446.2 1034.4L1447.2 1033.7L1448.2 1032.9L1449.2 1032.2L1450.2 1031.5L1451.2 1031.1L1452.2 1030.5L1453.2 1029.9L1454.2 1029.5L1455.2 1029.0L1456.2 1028.5L1457.2 1028.3L1458.2 1027.9L1459.2 1027.4L1460.2 1027.0L1461.2 1026.6L1462.2 1026.3L1463.2 1026.0L1464.2 1025.7L1465.2 1025.3L1466.2 1025.0L1467.2 1024.7L1468.2 1024.5L1469.2 1024.2L1470.2 1023.8L1471.2 1023.5L1472.2 1023.3L1473.2 1023.0L1474.2 1022.7L1475.2 1022.4L1476.2 1022.1L1477.2 1021.9L1478.2 1021.6L1479.2 1021.2L1480.2 1021.1L1481.2 1020.8L1482.2 1020.6L1483.2 1020.5L1484.2 1020.2L1485.2 1020.1L1486.2 1019.9L1487.2 1019.8L1488.2 1019.6L1489.2 1019.9L1490.2 1019.6L1491.2 1019.5L1492.2 1019.3L1493.2 1019.4L1494.2 1019.4L1495.2 1019.1L1496.2 1019.2L1497.2 1019.0L1498.2 1019.0L1499.2 1019.0L1500.2 1019.0L1501.2 1018.8L1502.2 1018.8L1503.2 1018.7L1504.2 1018.7L1505.2 1018.6L1506.2 1018.6L1507.2 1018.6L1508.2 1018.6L1509.2 1018.4L1510.2 1018.5L1511.2 1018.4L1512.2 1018.4L1513.2 1018.4L1514.2 1018.3L1515.2 1018.1L1516.2 1018.2L1517.2 1018.1L1518.2 1018.1L1519.2 1018.5L1520.2 1018.1L1521.2 1018.1L1522.2 1017.9L1523.2 1018.0L1524.2 1017.8L1525.2 1017.9L1526.2 1017.8L1527.2 1017.7L1528.2 1017.9L1529.2 1017.8L1530.2 1017.9L1531.2 1017.6L1532.2 1017.7L1533.2 1017.8L1534.2 1017.7L1535.2 1017.6L1536.2 1017.6L1537.2 1017.5L1538.2 1017.5L1539.2 1017.6L1540.2 1017.5L1541.2 1017.4L1542.2 1017.6L1543.2 1017.5L1544.2 1017.5L1545.2 1017.4L1546.2 1017.4L1547.2 1017.5L1548.2 1017.3L1549.2 1017.3L1550.2 1017.2L1551.2 1017.3L1552.2 1017.4L1553.2 1017.2L1554.2 1017.3L1555.2 1017.3L1556.2 1017.2L1557.2 1017.2L1558.2 1017.2L1559.2 1017.0L1560.2 1017.1L1561.2 1017.1L1562.2 1017.0L1563.2 1017.0L1564.2 1016.9L1565.2 1017.1L1566.2 1017.1L1567.2 1017.0L1568.2 1017.0L1569.2 1016.8L1570.2 1017.0L1571.2 1017.1L1572.2 1016.9L1573.2 1016.7L1574.2 1016.8L1575.2 1016.7L1576.2 1016.8L1577.2 1016.6L1578.2 1016.6L1579.2 1016.6L1580.2 1016.6L1581.2 1016.5L1582.2 1016.6L1583.2 1016.6L1584.2 1016.4L1585.2 1016.4L1586.2 1016.3L1587.2 1016.4L1588.2 1016.3L1589.2 1016.2L1590.2 1016.2L1591.2 1016.2L1592.2 1016.1L1593.2 1016.0L1594.2 1015.9L1595.2 1016.0L1596.2 1015.9L1597.2 1015.8L1598.2 1016.0L1599.2 1015.8L1600.2 1015.8L1601.2 1015.7L1602.2 1015.6L1603.2 1015.6L1604.2 1015.6L1605.2 1015.6L1606.2 1015.6L1607.2 1015.3L1608.2 1015.3L1609.2 1015.4L1610.2 1015.3L1611.2 1015.2L1612.2 1015.2L1613.2 1015.1L1614.2 1015.1L1615.2 1015.0L1616.2 1015.0L1617.2 1014.9L1618.2 1015.0L1619.2 1014.7L1620.2 1014.8L1621.2 1014.7L1622.2 1014.7L1623.2 1014.6L1624.2 1014.7L1625.2 1014.5L1626.2 1014.6L1627.2 1014.4L1628.2 1014.3L1629.2 1014.3L1630.2 1014.3L1631.2 1014.4L1632.2 1014.3L1633.2 1014.4L1634.2 1014.2L1635.2 1014.1L1636.2 1014.0L1637.2 1014.0L1638.2 1014.1L1639.2 1014.0L1640.2 1014.0L1641.2 1013.9L1642.2 1014.0L1643.2 1013.9L1644.2 1013.8L1645.2 1013.8L1646.2 1013.8L1647.2 1013.8L1648.2 1013.7L1649.2 1013.6L1650.2 1013.5L1651.2 1013.5L1652.2 1013.5L1653.2 1013.6L1654.2 1013.6L1655.2 1013.5L1656.2 1013.5L1657.2 1013.5L1658.2 1013.4L1659.2 1013.3L1660.2 1013.5L1661.2 1013.5L1662.2 1013.4L1663.2 1013.5L1664.2 1013.3L1665.2 1013.2L1666.2 1013.2L1667.2 1013.1L1668.2 1013.2L1669.2 1013.1L1670.2 1013.3L1671.2 1013.1L1672.2 1013.0L1673.2 1013.1L1674.2 1012.9L1675.2 1013.0L1676.2 1013.0L1677.2 1013.0L1678.2 1012.9L1679.2 1012.9L1680.2 1013.0L1681.2 1012.9L1682.2 1013.0L1683.2 1012.9L1684.2 1012.9L1685.2 1012.8L1686.2 1012.9L1687.2 1012.7L1688.2 1012.7L1689.2 1012.6L1690.2 1012.6L1691.2 1012.7L1692.2 1012.6L1693.2 1012.5L1694.2 1012.5L1695.2 1012.7L1696.2 1012.5L1697.2 1012.4L1698.2 1012.3L1699.2 1012.5L1700.2 1012.4L1701.2 1012.3L1702.2 1012.3L1703.2 1012.3L1704.2 1012.1L1705.2 1012.1L1706.2 1012.1L1707.2 1012.0L1708.2 1011.9L1709.2 1012.2L1710.2 1012.0L1711.2 1011.9L1712.2 1012.0L1713.2 1011.6L1714.2 1011.8L1715.2 1011.8L1716.2 1011.8L1717.2 1011.6L1718.2 1011.5L1719.2 1011.6L1720.2 1011.4L1721.2 1011.5L1722.2 1011.4L1723.2 1011.4L1724.2 1011.5L1725.2 1011.5L1726.2 1011.3L1727.2 1011.3L1728.2 1011.3L1729.2 1011.2L1730.2 1011.4L1731.2 1011.2L1732.2 1011.3L1733.2 1011.2L1734.2 1011.0L1735.2 1011.2L1736.2 1011.2L1737.2 1011.0L1738.2 1011.2L1739.2 1011.0L1740.2 1011.2L1741.2 1011.1L1742.2 1011.1L1743.2 1011.0L1744.2 1011.0L1745.2 1010.9L1746.2 1010.9L1747.2 1010.8L1748.2 1011.0L1749.2 1010.9L1750.2 1010.9L1751.2 1010.9L1752.2 1010.7L1753.2 1010.8L1754.2 1010.8L1755.2 1010.8L1756.2 1010.8L1757.2 1010.7L1758.2 1010.8L1759.2 1010.8L1760.2 1010.6L1761.2 1010.6L1762.2 1010.6L1763.2 1010.7L1764.2 1010.6L1765.2 1010.8L1766.2 1010.6L1767.2 1010.5L1768.2 1010.6L1769.2 1010.6L1770.2 1010.7L1771.2 1010.6L1772.2 1010.5L1773.2 1010.6L1774.2 1010.7L1775.2 1010.4L1776.2 1010.6L1777.2 1010.5L1778.2 1010.5L1779.2 1010.5L1780.2 1010.5L1781.2 1010.5L1782.2 1010.5L1783.2 1010.5L1784.2 1010.5L1785.2 1010.4L1786.2 1010.5L1787.2 1010.4L1788.2 1010.5L1789.2 1010.5L1790.2 1010.6L1791.2 1010.6L1792.2 1010.4L1793.2 1010.7L1794.2 1010.6L1795.2 1010.6L1796.2 1010.7L1797.2 1010.6L1798.2 1010.8L1799.2 1011.1L1800.2 1010.9L1801.2 1011.3L1802.2 1011.7L1803.2 1012.5L1804.2 1013.1L1805.2 1013.7L1806.2 1014.3L1807.2 1014.2L1808.2 1014.2L1809.2 1013.8L1810.2 1013.2L1811.2 1013.0L1812.2 1012.5L1813.2 1012.2L1814.2 1012.3L1815.2 1012.2L1816.2 1012.1L1817.2 1012.1L1818.2 1012.3L1819.2 1012.3L1820.2 1012.2L1821.2 1012.3L1822.2 1012.3L1823.2 1012.3L1824.2 1012.2L1825.2 1012.2L1826.2 1012.4L1827.2 1012.3L1828.2 1012.4L1829.2 1012.3L1830.2 1012.4L1831.2 1012.2L1832.2 1012.3L1833.2 1012.2L1834.2 1012.5L1835.2 1012.4L1836.2 1012.4L1837.2 1012.3L1838.2 1012.4L1839.2 1012.4L1840.2 1012.6L1841.2 1012.5L1842.2 1012.5L1843.2 1012.4L1844.2 1012.6L1845.2 1012.6L1846.2 1012.7L1847.2 1012.7L1848.2 1012.8L1849.2 1012.9L1850.2 1012.8L1851.2 1012.9L1852.2 1013.0L1853.2 1013.1L1854.2 1013.1L1855.2 1013.4L1856.2 1013.5L1857.2 1013.6L1858.2 1013.9L1859.2 1014.0L1860.2 1014.2L1861.2 1014.6L1862.2 1014.8L1863.2 1015.0L1864.2 1015.3L1865.2 1015.6L1866.2 1015.9L1867.2 1016.2L1868.2 1016.9L1869.2 1017.4L1870.2 1018.0L1871.2 1018.7L1872.2 1019.5L1873.2 1020.2L1874.2 1021.2L1875.2 1022.1L1876.2 1022.9L1877.2 1024.0L1878.2 1025.2L1879.2 1026.7L1880.2 1028.1L1881.2 1029.8L1882.2 1031.6L1883.2 1033.4L1884.2 1035.4L1885.2 1037.6L1886.2 1040.3L1887.2 1043.2L1888.2 1046.2L1889.2 1049.6L1890.2 1052.9L1891.2 1056.5L1892.2 1060.4L1893.2 1064.2L1894.2 1068.5L1895.2 1073.0L1896.2 1077.5L1897.2 1082.1L1898.2 1086.7L1899.2 1091.7L1900.2 1096.8L1901.2 1101.7L1902.2 1106.5L1903.2 1110.8L1904.2 1115.3L1905.2 1119.8L1906.2 1123.1L1907.2 1124.6L1908.2 1123.9L1909.2 1122.1L1910.2 1119.2L1911.2 1116.0L1912.2 1111.4L1913.2 1103.8L1914.2 1095.2L1915.2 1088.0L1916.2 1081.1L1917.2 1074.4L1918.2 1068.2L1919.2 1062.6L1920.2 1058.6L1921.2 1054.8L1922.2 1051.3L1923.2 1048.4L1924.2 1045.6L1925.2 1043.3L1926.2 1041.5L1927.2 1040.1L1928.2 1038.9L1929.2 1037.9L1930.2 1036.8L1931.2 1036.0L1932.2 1035.2L1933.2 1034.6L1934.2 1033.9L1935.2 1033.4L1936.2 1033.0L1937.2 1032.7L1938.2 1032.4L1939.2 1032.2L1940.2 1032.0L1941.2 1031.8L1942.2 1031.5L1943.2 1031.5L1944.2 1031.4L1945.2 1031.2L1946.2 1031.0L1947.2 1030.9L1948.2 1030.8L1949.2 1030.7L1950.2 1030.6L1951.2 1030.5L1952.2 1030.3L1953.2 1030.5L1954.2 1030.1L1955.2 1030.2L1956.2 1030.0L1957.2 1030.1L1958.2 1029.9L1959.2 1029.9L1960.2 1029.8L1961.2 1029.7L1962.2 1029.7L1963.2 1029.7L1964.2 1029.6L1965.2 1029.7L1966.2 1029.4L1967.2 1029.5L1968.2 1029.3L1969.2 1029.2L1970.2 1029.2L1971.2 1029.1L1972.2 1029.2L1973.2 1029.0L1974.2 1029.0L1975.2 1028.8L1976.2 1028.7L1977.2 1028.7L1978.2 1028.6L1979.2 1028.4L1980.2 1028.4L1981.2 1028.2L1982.2 1028.2L1983.2 1028.1L1984.2 1027.7L1985.2 1027.6L1986.2 1027.4L1987.2 1027.3L1988.2 1027.1L1989.2 1026.9L1990.2 1026.7L1991.2 1026.8L1992.2 1026.4L1993.2 1026.3L1994.2 1026.1L1995.2 1025.9L1996.2 1025.9L1997.2 1025.7L1998.2 1025.6L1999.2 1025.3L2000.2 1025.3L2001.2 1025.2L2002.2 1025.0L2003.2 1024.9L2004.2 1024.7L2005.2 1024.7L2006.2 1024.6L2007.2 1024.6L2008.2 1024.3L2009.2 1024.3L2010.2 1024.2L2011.2 1024.0L2012.2 1024.0L2013.2 1023.8L2014.2 1023.7L2015.2 1023.7L2016.2 1023.9L2017.2 1023.7L2018.2 1023.6L2019.2 1023.7L2020.2 1023.7L2021.2 1023.6L2022.2 1023.6L2023.2 1023.6L2024.2 1023.7L2025.2 1023.6L2026.2 1023.6L2027.2 1023.7L2028.2 1023.8L2029.2 1023.7L2030.2 1023.8L2031.2 1023.8L2032.2 1024.0L2033.2 1024.3L2034.2 1024.0L2035.2 1024.1L2036.2 1024.1L2037.2 1024.2L2038.2 1024.5L2039.2 1024.4L2040.2 1024.7L2041.2 1025.0L2042.2 1025.1L2043.2 1025.4L2044.2 1025.6L2045.2 1026.0L2046.2 1026.0L2047.2 1026.1L2048.2 1026.3L2049.2 1026.2L2050.2 1026.4L2051.2 1026.5L2052.2 1026.5L2053.2 1026.7L2054.2 1026.7L2055.2 1026.9L2056.2 1027.0L2057.2 1027.0L2058.2 1026.9L2059.2 1027.0L2060.2 1027.1L2061.2 1027.3L2062.2 1027.3L2063.2 1027.4L2064.2 1027.4L2065.2 1027.6L2066.2 1027.4L2067.2 1027.4L2068.2 1027.5L2069.2 1027.7L2070.2 1027.6L2071.2 1027.7L2072.2 1027.7L2073.2 1027.9L2074.2 1027.8L2075.2 1027.9L2076.2 1028.0L2077.2 1028.3L2078.2 1028.2L2079.2 1028.4L2080.2 1028.3L2081.2 1028.4L2082.2 1028.5L2083.2 1028.6L2084.2 1028.6L2085.2 1028.8L2086.2 1028.8L2087.2 1028.9L2088.2 1029.1L2089.2 1029.0L2090.2 1029.2L2091.2 1029.3L2092.2 1029.4L2093.2 1029.5L2094.2 1029.5L2095.2 1029.7L2096.2 1029.7L2097.2 1029.7L2098.2 1029.9L2099.2 1029.9L2100.2 1029.9L2101.2 1030.0L2102.2 1030.0L2103.2 1030.1L2104.2 1030.0L2105.2 1030.1L2106.2 1030.1L2107.2 1030.0L2108.2 1030.2L2109.2 1030.1L2110.2 1030.1L2111.2 1030.0L2112.2 1029.7L2113.2 1029.6L2114.2 1029.5L2115.2 1029.3L2116.2 1029.2L2117.2 1028.9L2118.2 1028.9L2119.2 1028.7L2120.2 1028.6L2121.2 1028.4L2122.2 1028.2L2123.2 1028.1L2124.2 1027.9L2125.2 1027.7L2126.2 1027.7L2127.2 1027.4L2128.2 1027.4L2129.2 1027.3L2130.2 1027.2L2131.2 1027.1L2132.2 1027.2L2133.2 1027.0L2134.2 1027.0L2135.2 1026.9L2136.2 1026.8L2137.2 1026.8L2138.2 1026.7L2139.2 1026.8L2140.2 1026.8L2141.2 1026.7L2142.2 1026.6L2143.2 1026.9L2144.2 1026.7L2145.2 1026.7L2146.2 1026.7L2147.2 1026.9L2148.2 1027.4L2149.2 1027.7L2150.2 1028.1L2151.2 1028.7L2152.2 1029.2L2153.2 1030.3L2154.2 1031.7L2155.2 1033.7L2156.2 1036.0L2157.2 1038.4L2158.2 1041.3L2159.2 1045.3L2160.2 1049.4L2161.2 1054.0L2162.2 1058.5L2163.2 1063.1L2164.2 1068.2L2165.2 1073.4L2166.2 1078.6L2167.2 1083.8L2168.2 1088.9L2169.2 1093.9L2170.2 1099.0L2171.2 1104.1L2172.2 1109.0L2173.2 1113.7L2174.2 1118.3L2175.2 1122.8L2176.2 1127.1L2177.2 1131.4L2178.2 1135.2L2179.2 1138.9L2180.2 1142.5L2181.2 1145.8L2182.2 1148.3L2183.2 1150.5L2184.2 1152.3L2185.2 1153.3L2186.2 1153.5L2187.2 1152.1L2188.2 1150.1L2189.2 1147.3L2190.2 1142.5L2191.2 1135.2L2192.2 1127.7L2193.2 1122.4L2194.2 1118.1L2195.2 1114.1L2196.2 1110.4L2197.2 1107.1L2198.2 1103.8L2199.2 1100.6L2200.2 1097.9L2201.2 1095.4L2202.2 1092.9L2203.2 1090.5L2204.2 1088.9L2205.2 1088.0L2206.2 1087.3L2207.2 1086.6L2208.2 1086.5L2209.2 1086.7L2210.2 1087.3L2211.2 1088.6L2212.2 1090.3L2213.2 1092.1L2214.2 1094.8L2215.2 1098.7L2216.2 1102.5L2217.2 1105.6L2218.2 1108.1L2219.2 1110.6L2220.2 1112.9L2221.2 1114.4L2222.2 1115.4L2223.2 1115.7L2224.2 1116.5L2225.2 1116.7L2226.2 1117.0L2227.2 1117.5L2228.2 1117.2L2229.2 1116.6L2230.2 1115.9L2231.2 1115.1L2232.2 1114.0L2233.2 1112.9L2234.2 1111.6L2235.2 1109.9L2236.2 1108.0L2237.2 1106.0L2238.2 1103.8L2239.2 1101.8L2240.2 1099.6L2241.2 1097.4L2242.2 1094.8L2243.2 1092.1L2244.2 1089.6L2245.2 1087.0L2246.2 1084.7L2247.2 1082.2L2248.2 1080.4L2249.2 1079.1L2250.2 1077.7L2251.2 1076.5L2252.2 1075.4L2253.2 1074.3L2254.2 1073.2L2255.2 1072.2L2256.2 1071.2L2257.2 1070.0L2258.2 1068.7L2259.2 1067.6L2260.2 1066.3L2261.2 1064.9L2262.2 1063.8L2263.2 1062.7L2264.2 1061.6L2265.2 1060.8L2266.2 1059.8L2267.2 1059.1L2268.2 1058.4L2269.2 1057.7L2270.2 1057.0L2271.2 1056.5L2272.2 1055.8L2273.2 1055.2L2274.2 1054.6L2275.2 1054.0L2276.2 1053.5L2277.2 1052.9L2278.2 1052.1L2279.2 1051.3L2280.2 1050.5L2281.2 1049.5L2282.2 1048.6L2283.2 1047.9L2284.2 1047.1L2285.2 1046.3L2286.2 1045.8L2287.2 1045.5L2288.2 1045.4L2289.2 1045.3L2290.2 1045.1L2291.2 1045.1L2292.2 1045.1L2293.2 1044.7L2294.2 1044.2L2295.2 1043.2L2296.2 1042.1L2297.2 1040.9L2298.2 1039.5L2299.2 1038.2L2300.2 1037.1L2301.2 1036.2L2302.2 1035.8L2303.2 1035.6L2304.2 1035.8L2305.2 1035.9L2306.2 1036.1L2307.2 1036.2L2308.2 1036.3L2309.2 1036.5L2310.2 1036.7L2311.2 1036.8L2312.2 1037.0L2313.2 1037.1L2314.2 1037.2L2315.2 1037.5L2316.0 1037.6" fill="none" stroke="#ff8000" stroke-width="8.4" stroke-linejoin="round" stroke-linecap="butt"/>
</g>
</svg>
</body>
</html>
